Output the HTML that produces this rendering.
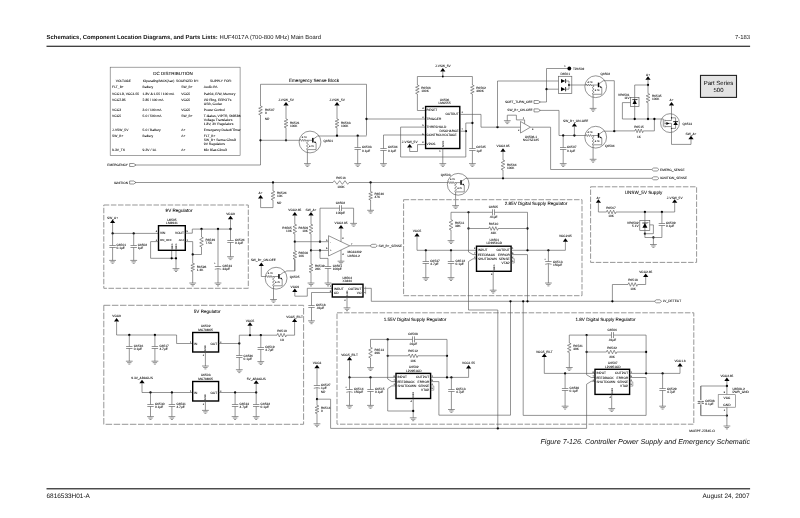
<!DOCTYPE html>
<html><head><meta charset="utf-8"><title>7-183</title>
<style>
html,body{margin:0;padding:0;background:#fff;}
body{width:800px;height:518px;overflow:hidden;font-family:"Liberation Sans",sans-serif;}
svg{display:block;font-family:"Liberation Sans",sans-serif;text-rendering:geometricPrecision;filter:grayscale(1);}
</style></head><body>
<svg width="800" height="518" viewBox="0 0 800 518">
<rect width="800" height="518" fill="#fff"/>
<text transform="translate(46.6 39.3) scale(0.1)" font-size="59" fill="#111"><tspan font-weight="bold">Schematics, Component Location Diagrams, and Parts Lists:</tspan> HUF4017A (700-800 MHz) Main Board</text>
<text transform="translate(750.00 39.30) scale(0.1)" font-size="59.0" text-anchor="end" fill="#111" >7-183</text>
<rect x="46.5" y="45.7" width="703.6" height="1.15" fill="#222"/>
<rect x="46.5" y="488.05" width="703.6" height="1.4" fill="#444"/>
<text transform="translate(46.50 498.10) scale(0.1)" font-size="64.5" text-anchor="start" fill="#111" >6816533H01-A</text>
<text transform="translate(749.50 498.10) scale(0.1)" font-size="64.5" text-anchor="end" fill="#111" >August 24, 2007</text>
<text transform="translate(750.00 444.30) scale(0.1)" font-size="71.7" text-anchor="end" fill="#111" font-style="italic" >Figure 7-126. Controller Power Supply and Emergency Schematic</text>
<text transform="translate(689.20 432.30) scale(0.1)" font-size="33.6" text-anchor="start" fill="#000" stroke="#000" stroke-width="0.50" >MAEPF-27845-O</text>
<rect x="110.2" y="67.2" width="129.9" height="88.4" fill="#fff" stroke="#666" stroke-width="0.6"/>
<text transform="translate(173.00 75.20) scale(0.1)" font-size="45.0" text-anchor="middle" fill="#000" stroke="#000" stroke-width="0.50" >DC DISTRIBUTION</text>
<text transform="translate(123.30 81.70) scale(0.1)" font-size="33.4" text-anchor="middle" fill="#000" stroke="#000" stroke-width="0.50" >VOLTAGE</text>
<text transform="translate(158.50 81.70) scale(0.1)" font-size="33.4" text-anchor="middle" fill="#000" stroke="#000" stroke-width="0.50" >IOperating/MAX(Aac)</text>
<text transform="translate(187.50 81.70) scale(0.1)" font-size="33.4" text-anchor="middle" fill="#000" stroke="#000" stroke-width="0.50" >SOURCED BY:</text>
<text transform="translate(221.00 81.70) scale(0.1)" font-size="33.4" text-anchor="middle" fill="#000" stroke="#000" stroke-width="0.50" >SUPPLY FOR:</text>
<text transform="translate(112.10 88.10) scale(0.1)" font-size="33.4" text-anchor="start" fill="#000" stroke="#000" stroke-width="0.50" >FLT_B+</text>
<text transform="translate(142.60 88.10) scale(0.1)" font-size="33.4" text-anchor="start" fill="#000" stroke="#000" stroke-width="0.50" >Battery</text>
<text transform="translate(181.30 88.10) scale(0.1)" font-size="33.4" text-anchor="start" fill="#000" stroke="#000" stroke-width="0.50" >SW_B+</text>
<text transform="translate(203.80 88.10) scale(0.1)" font-size="33.4" text-anchor="start" fill="#000" stroke="#000" stroke-width="0.50" >Audio PA</text>
<text transform="translate(112.10 94.90) scale(0.1)" font-size="33.4" text-anchor="start" fill="#000" stroke="#000" stroke-width="0.50" >VCC1.8, VCC1.55</text>
<text transform="translate(142.60 94.90) scale(0.1)" font-size="33.4" text-anchor="start" fill="#000" stroke="#000" stroke-width="0.50" >1.8V &amp; 1.55 / 100 mA</text>
<text transform="translate(181.30 94.90) scale(0.1)" font-size="33.4" text-anchor="start" fill="#000" stroke="#000" stroke-width="0.50" >VCC5</text>
<text transform="translate(203.80 94.90) scale(0.1)" font-size="33.4" text-anchor="start" fill="#000" stroke="#000" stroke-width="0.50" >Patriot, E/W, Memory</text>
<text transform="translate(112.10 100.60) scale(0.1)" font-size="33.4" text-anchor="start" fill="#000" stroke="#000" stroke-width="0.50" >VCC2.85</text>
<text transform="translate(142.60 100.60) scale(0.1)" font-size="33.4" text-anchor="start" fill="#000" stroke="#000" stroke-width="0.50" >2.85 / 100 mA</text>
<text transform="translate(181.30 100.60) scale(0.1)" font-size="33.4" text-anchor="start" fill="#000" stroke="#000" stroke-width="0.50" >VCC5</text>
<text transform="translate(203.80 100.60) scale(0.1)" font-size="33.4" text-anchor="start" fill="#000" stroke="#000" stroke-width="0.50" >I/O Ring, EEPOT's</text>
<text transform="translate(203.80 104.50) scale(0.1)" font-size="33.4" text-anchor="start" fill="#000" stroke="#000" stroke-width="0.50" >USB, Codec</text>
<text transform="translate(112.10 110.70) scale(0.1)" font-size="33.4" text-anchor="start" fill="#000" stroke="#000" stroke-width="0.50" >VCC3</text>
<text transform="translate(142.60 110.70) scale(0.1)" font-size="33.4" text-anchor="start" fill="#000" stroke="#000" stroke-width="0.50" >3.0 / 100 mA</text>
<text transform="translate(181.30 110.70) scale(0.1)" font-size="33.4" text-anchor="start" fill="#000" stroke="#000" stroke-width="0.50" >VCC5</text>
<text transform="translate(203.80 110.70) scale(0.1)" font-size="33.4" text-anchor="start" fill="#000" stroke="#000" stroke-width="0.50" >Power Control</text>
<text transform="translate(112.10 117.00) scale(0.1)" font-size="33.4" text-anchor="start" fill="#000" stroke="#000" stroke-width="0.50" >VCC5</text>
<text transform="translate(142.60 117.00) scale(0.1)" font-size="33.4" text-anchor="start" fill="#000" stroke="#000" stroke-width="0.50" >5.0 / 500 mA</text>
<text transform="translate(181.30 117.00) scale(0.1)" font-size="33.4" text-anchor="start" fill="#000" stroke="#000" stroke-width="0.50" >SW_B+</text>
<text transform="translate(203.80 117.00) scale(0.1)" font-size="33.4" text-anchor="start" fill="#000" stroke="#000" stroke-width="0.50" >T-Gates, VIPTR, 5685B6</text>
<text transform="translate(203.80 120.90) scale(0.1)" font-size="33.4" text-anchor="start" fill="#000" stroke="#000" stroke-width="0.50" >Voltage Translators</text>
<text transform="translate(203.80 124.80) scale(0.1)" font-size="33.4" text-anchor="start" fill="#000" stroke="#000" stroke-width="0.50" >1.8V, 3V Regulators</text>
<text transform="translate(112.10 131.00) scale(0.1)" font-size="33.4" text-anchor="start" fill="#000" stroke="#000" stroke-width="0.50" >J-VSW_5V</text>
<text transform="translate(142.60 131.00) scale(0.1)" font-size="33.4" text-anchor="start" fill="#000" stroke="#000" stroke-width="0.50" >5.0 / Battery</text>
<text transform="translate(181.30 131.00) scale(0.1)" font-size="33.4" text-anchor="start" fill="#000" stroke="#000" stroke-width="0.50" >A+</text>
<text transform="translate(203.80 131.00) scale(0.1)" font-size="33.4" text-anchor="start" fill="#000" stroke="#000" stroke-width="0.50" >Emergency Detect/Timer</text>
<text transform="translate(112.10 137.30) scale(0.1)" font-size="33.4" text-anchor="start" fill="#000" stroke="#000" stroke-width="0.50" >SW_B+</text>
<text transform="translate(142.60 137.30) scale(0.1)" font-size="33.4" text-anchor="start" fill="#000" stroke="#000" stroke-width="0.50" >Battery</text>
<text transform="translate(181.30 137.30) scale(0.1)" font-size="33.4" text-anchor="start" fill="#000" stroke="#000" stroke-width="0.50" >A+</text>
<text transform="translate(203.80 137.30) scale(0.1)" font-size="33.4" text-anchor="start" fill="#000" stroke="#000" stroke-width="0.50" >FLT_B+</text>
<text transform="translate(203.80 141.20) scale(0.1)" font-size="33.4" text-anchor="start" fill="#000" stroke="#000" stroke-width="0.50" >SW_B+ Sense Circuit</text>
<text transform="translate(203.80 145.10) scale(0.1)" font-size="33.4" text-anchor="start" fill="#000" stroke="#000" stroke-width="0.50" >9V Regulators</text>
<text transform="translate(112.10 151.20) scale(0.1)" font-size="33.4" text-anchor="start" fill="#000" stroke="#000" stroke-width="0.50" >9.3V_TX</text>
<text transform="translate(142.60 151.20) scale(0.1)" font-size="33.4" text-anchor="start" fill="#000" stroke="#000" stroke-width="0.50" >9.3V / 1A</text>
<text transform="translate(181.30 151.20) scale(0.1)" font-size="33.4" text-anchor="start" fill="#000" stroke="#000" stroke-width="0.50" >A+</text>
<text transform="translate(203.80 151.20) scale(0.1)" font-size="33.4" text-anchor="start" fill="#000" stroke="#000" stroke-width="0.50" >Mic Bias Circuit</text>
<path d="M129.60 163.50 L133.80 163.50 L135.90 165.00 L133.80 166.50 L129.60 166.50 Z" fill="#fff" stroke="#565656" stroke-width="0.63"/>
<text transform="translate(128.00 166.05) scale(0.1)" font-size="32.1" text-anchor="end" fill="#000" stroke="#000" stroke-width="0.50" >EMERGENCY</text>
<path d="M129.60 181.00 L133.80 181.00 L135.90 182.50 L133.80 184.00 L129.60 184.00 Z" fill="#fff" stroke="#565656" stroke-width="0.63"/>
<text transform="translate(128.00 183.55) scale(0.1)" font-size="32.1" text-anchor="end" fill="#000" stroke="#000" stroke-width="0.50" >IGNITION</text>
<text transform="translate(314.00 81.60) scale(0.1)" font-size="46.0" text-anchor="middle" fill="#000" stroke="#000" stroke-width="0.50" >Emergency Sense Block</text>
<path d="M260.50 106.00 L260.50 84.30 L366.50 84.30 L366.50 135.50" fill="none" stroke="#565656" stroke-width="0.63"/>
<path d="M260.50 106.00 L262.30 106.75 L258.70 108.25 L262.30 109.75 L258.70 111.25 L262.30 112.75 L258.70 114.25 L260.50 115.00" fill="none" stroke="#565656" stroke-width="0.63"/>
<path d="M260.50 115.00 L260.50 165.00 L135.10 165.00" fill="none" stroke="#565656" stroke-width="0.63"/>
<text transform="translate(265.00 110.60) scale(0.1)" font-size="32.1" text-anchor="start" fill="#000" stroke="#000" stroke-width="0.50" >R6507</text>
<text transform="translate(265.00 113.65) scale(0.1)" font-size="32.1" text-anchor="start" fill="#000" stroke="#000" stroke-width="0.50" >0</text>
<text transform="translate(265.00 120.30) scale(0.1)" font-size="32.1" text-anchor="start" fill="#000" stroke="#000" stroke-width="0.50" >NP</text>
<circle cx="260.50" cy="140.30" r="1.15" fill="#000"/>
<circle cx="286.00" cy="140.30" r="1.15" fill="#000"/>
<path d="M260.50 140.30 L299.30 140.30" fill="none" stroke="#565656" stroke-width="0.63"/>
<path d="M286.00 102.00 L283.40 105.50 L288.60 105.50 Z" fill="#000"/>
<text transform="translate(286.00 101.30) scale(0.1)" font-size="32.1" text-anchor="middle" fill="#000" stroke="#000" stroke-width="0.50" >J-VSW_5V</text>
<path d="M286.00 105.50 L286.00 119.00" fill="none" stroke="#565656" stroke-width="0.63"/>
<path d="M286.00 119.00 L287.80 119.72 L284.20 121.17 L287.80 122.62 L284.20 124.08 L287.80 125.53 L284.20 126.98 L286.00 127.70" fill="none" stroke="#565656" stroke-width="0.63"/>
<path d="M286.00 127.70 L286.00 140.30" fill="none" stroke="#565656" stroke-width="0.63"/>
<text transform="translate(290.00 123.90) scale(0.1)" font-size="32.1" text-anchor="start" fill="#000" stroke="#000" stroke-width="0.50" >R6521</text>
<text transform="translate(290.00 126.95) scale(0.1)" font-size="32.1" text-anchor="start" fill="#000" stroke="#000" stroke-width="0.50" >100K</text>
<path d="M337.00 102.00 L334.40 105.50 L339.60 105.50 Z" fill="#000"/>
<text transform="translate(337.00 101.30) scale(0.1)" font-size="32.1" text-anchor="middle" fill="#000" stroke="#000" stroke-width="0.50" >J-VSW_5V</text>
<path d="M337.00 105.50 L337.00 119.00" fill="none" stroke="#565656" stroke-width="0.63"/>
<path d="M337.00 119.00 L338.80 119.72 L335.20 121.17 L338.80 122.62 L335.20 124.08 L338.80 125.53 L335.20 126.98 L337.00 127.70" fill="none" stroke="#565656" stroke-width="0.63"/>
<path d="M337.00 127.70 L337.00 135.50" fill="none" stroke="#565656" stroke-width="0.63"/>
<text transform="translate(341.00 123.90) scale(0.1)" font-size="32.1" text-anchor="start" fill="#000" stroke="#000" stroke-width="0.50" >R6563</text>
<text transform="translate(341.00 126.95) scale(0.1)" font-size="32.1" text-anchor="start" fill="#000" stroke="#000" stroke-width="0.50" >100K</text>
<circle cx="310.00" cy="142.00" r="10.9" fill="none" stroke="#565656" stroke-width="0.63"/>
<path d="M300.00 140.30 L300.54 139.30 L301.62 141.30 L302.71 139.30 L303.79 141.30 L304.88 139.30 L305.96 141.30 L306.50 140.30" fill="none" stroke="#565656" stroke-width="0.63"/>
<path d="M299.30 140.30 L300.00 140.30" fill="none" stroke="#565656" stroke-width="0.63"/>
<path d="M306.50 140.30 L312.30 140.30" fill="none" stroke="#565656" stroke-width="0.63"/>
<path d="M307.40 140.60 L308.40 141.37 L306.40 142.90 L308.40 144.43 L306.40 145.97 L308.40 147.50 L306.40 149.03 L307.40 149.80" fill="none" stroke="#565656" stroke-width="0.63"/>
<rect x="312.10" y="137.90" width="1.5" height="4.6" fill="#000"/>
<path d="M313.50 139.00 L317.60 136.00 L318.80 136.00" fill="none" stroke="#565656" stroke-width="0.63"/>
<path d="M313.50 141.50 L316.10 142.90 L316.10 149.60 L307.40 149.60" fill="none" stroke="#565656" stroke-width="0.63"/>
<path d="M316.10 143.00 l-1.9 -0.2 l0.9 -1.5 Z" fill="#000"/>
<text transform="translate(304.30 138.10) scale(0.1)" font-size="24.6" text-anchor="middle" fill="#000" stroke="#000" stroke-width="0.50" >4.7K</text>
<text transform="translate(309.00 146.50) scale(0.1)" font-size="24.6" text-anchor="start" fill="#000" stroke="#000" stroke-width="0.50" >4.7K</text>
<path d="M307.40 149.80 L307.40 163.60" fill="none" stroke="#565656" stroke-width="0.63"/>
<path d="M304.00 163.60 L310.80 163.60" fill="none" stroke="#565656" stroke-width="0.65"/>
<path d="M305.20 165.05 L309.60 165.05" fill="none" stroke="#565656" stroke-width="0.65"/>
<path d="M306.40 166.50 L308.40 166.50" fill="none" stroke="#565656" stroke-width="0.65"/>
<text transform="translate(323.40 142.10) scale(0.1)" font-size="32.1" text-anchor="start" fill="#000" stroke="#000" stroke-width="0.50" >Q6501</text>
<path d="M318.80 136.00 L366.50 136.00" fill="none" stroke="#565656" stroke-width="0.63"/>
<circle cx="337.00" cy="135.70" r="1.15" fill="#000"/>
<circle cx="357.70" cy="135.70" r="1.15" fill="#000"/>
<circle cx="366.50" cy="119.00" r="1.15" fill="#000"/>
<path d="M357.70 135.70 L357.70 147.50" fill="none" stroke="#565656" stroke-width="0.63"/>
<path d="M357.70 149.50 L357.70 163.60" fill="none" stroke="#565656" stroke-width="0.63"/>
<path d="M354.50 147.50 L360.90 147.50" fill="none" stroke="#565656" stroke-width="0.63"/>
<path d="M354.50 149.50 L360.90 149.50" fill="none" stroke="#565656" stroke-width="0.63"/>
<path d="M354.30 163.60 L361.10 163.60" fill="none" stroke="#565656" stroke-width="0.65"/>
<path d="M355.50 165.05 L359.90 165.05" fill="none" stroke="#565656" stroke-width="0.65"/>
<path d="M356.70 166.50 L358.70 166.50" fill="none" stroke="#565656" stroke-width="0.65"/>
<text transform="translate(362.00 148.30) scale(0.1)" font-size="32.1" text-anchor="start" fill="#000" stroke="#000" stroke-width="0.50" >C6503</text>
<text transform="translate(362.00 151.70) scale(0.1)" font-size="32.1" text-anchor="start" fill="#000" stroke="#000" stroke-width="0.50" >0.1µF</text>
<path d="M366.50 119.00 L425.00 119.00" fill="none" stroke="#565656" stroke-width="0.63"/>
<path d="M425.00 135.00 L383.50 135.00" fill="none" stroke="#565656" stroke-width="0.63"/>
<path d="M383.50 135.00 L383.50 148.50" fill="none" stroke="#565656" stroke-width="0.63"/>
<path d="M383.50 150.50 L383.50 163.60" fill="none" stroke="#565656" stroke-width="0.63"/>
<path d="M380.30 148.50 L386.70 148.50" fill="none" stroke="#565656" stroke-width="0.63"/>
<path d="M380.30 150.50 L386.70 150.50" fill="none" stroke="#565656" stroke-width="0.63"/>
<path d="M380.10 163.60 L386.90 163.60" fill="none" stroke="#565656" stroke-width="0.65"/>
<path d="M381.30 165.05 L385.70 165.05" fill="none" stroke="#565656" stroke-width="0.65"/>
<path d="M382.50 166.50 L384.50 166.50" fill="none" stroke="#565656" stroke-width="0.65"/>
<text transform="translate(388.00 148.30) scale(0.1)" font-size="32.1" text-anchor="start" fill="#000" stroke="#000" stroke-width="0.50" >C6504</text>
<text transform="translate(388.00 151.70) scale(0.1)" font-size="32.1" text-anchor="start" fill="#000" stroke="#000" stroke-width="0.50" >0.1µF</text>
<rect x="425.60" y="106.50" width="34.20" height="42.00" fill="#fff" stroke="#000" stroke-width="1.40"/>
<text transform="translate(426.60 111.05) scale(0.1)" font-size="32.1" text-anchor="start" fill="#000" stroke="#000" stroke-width="0.50" >RESET</text>
<text transform="translate(426.60 120.05) scale(0.1)" font-size="32.1" text-anchor="start" fill="#000" stroke="#000" stroke-width="0.50" >TRIGGER</text>
<text transform="translate(426.60 128.05) scale(0.1)" font-size="32.1" text-anchor="start" fill="#000" stroke="#000" stroke-width="0.50" >THRESHOLD</text>
<text transform="translate(426.60 136.25) scale(0.1)" font-size="32.1" text-anchor="start" fill="#000" stroke="#000" stroke-width="0.50" >CONTROLVOLTAGE</text>
<text transform="translate(426.60 145.05) scale(0.1)" font-size="32.1" text-anchor="start" fill="#000" stroke="#000" stroke-width="0.50" >VPOS</text>
<text transform="translate(458.60 115.05) scale(0.1)" font-size="32.1" text-anchor="end" fill="#000" stroke="#000" stroke-width="0.50" >OUTPUT</text>
<text transform="translate(458.60 132.05) scale(0.1)" font-size="32.1" text-anchor="end" fill="#000" stroke="#000" stroke-width="0.50" >DISCHARGE</text>
<text transform="translate(443.50 147.00) rotate(-90) scale(0.1)" font-size="27.8" text-anchor="start" fill="#000" stroke="#000" stroke-width="0.50" >GND</text>
<text transform="translate(423.60 109.30) scale(0.1)" font-size="24.6" text-anchor="end" fill="#000" stroke="#000" stroke-width="0.50" >4</text>
<text transform="translate(423.60 118.30) scale(0.1)" font-size="24.6" text-anchor="end" fill="#000" stroke="#000" stroke-width="0.50" >2</text>
<text transform="translate(423.60 126.30) scale(0.1)" font-size="24.6" text-anchor="end" fill="#000" stroke="#000" stroke-width="0.50" >6</text>
<text transform="translate(423.60 134.80) scale(0.1)" font-size="24.6" text-anchor="end" fill="#000" stroke="#000" stroke-width="0.50" >5</text>
<text transform="translate(423.60 143.30) scale(0.1)" font-size="24.6" text-anchor="end" fill="#000" stroke="#000" stroke-width="0.50" >8</text>
<text transform="translate(461.50 113.30) scale(0.1)" font-size="24.6" text-anchor="start" fill="#000" stroke="#000" stroke-width="0.50" >3</text>
<text transform="translate(461.50 130.30) scale(0.1)" font-size="24.6" text-anchor="start" fill="#000" stroke="#000" stroke-width="0.50" >7</text>
<text transform="translate(440.50 151.50) scale(0.1)" font-size="24.6" text-anchor="end" fill="#000" stroke="#000" stroke-width="0.50" >1</text>
<text transform="translate(444.60 101.40) scale(0.1)" font-size="32.1" text-anchor="middle" fill="#000" stroke="#000" stroke-width="0.50" >U6506</text>
<text transform="translate(444.60 104.30) scale(0.1)" font-size="32.1" text-anchor="middle" fill="#000" stroke="#000" stroke-width="0.50" >LMC555</text>
<path d="M417.40 85.00 L417.40 76.50 L472.40 76.50 L472.40 85.00" fill="none" stroke="#565656" stroke-width="0.63"/>
<path d="M417.40 85.00 L419.20 85.75 L415.60 87.25 L419.20 88.75 L415.60 90.25 L419.20 91.75 L415.60 93.25 L417.40 94.00" fill="none" stroke="#565656" stroke-width="0.63"/>
<path d="M417.40 94.00 L417.40 110.50 L425.00 110.50" fill="none" stroke="#565656" stroke-width="0.63"/>
<text transform="translate(421.30 88.80) scale(0.1)" font-size="32.1" text-anchor="start" fill="#000" stroke="#000" stroke-width="0.50" >R6566</text>
<text transform="translate(421.30 91.85) scale(0.1)" font-size="32.1" text-anchor="start" fill="#000" stroke="#000" stroke-width="0.50" >100K</text>
<path d="M472.40 85.00 L474.20 85.75 L470.60 87.25 L474.20 88.75 L470.60 90.25 L474.20 91.75 L470.60 93.25 L472.40 94.00" fill="none" stroke="#565656" stroke-width="0.63"/>
<path d="M472.40 94.00 L472.40 148.50" fill="none" stroke="#565656" stroke-width="0.63"/>
<path d="M472.40 150.50 L472.40 163.60" fill="none" stroke="#565656" stroke-width="0.63"/>
<path d="M469.20 148.50 L475.60 148.50" fill="none" stroke="#565656" stroke-width="0.63"/>
<path d="M469.20 150.50 L475.60 150.50" fill="none" stroke="#565656" stroke-width="0.63"/>
<path d="M469.00 163.60 L475.80 163.60" fill="none" stroke="#565656" stroke-width="0.65"/>
<path d="M470.20 165.05 L474.60 165.05" fill="none" stroke="#565656" stroke-width="0.65"/>
<path d="M471.40 166.50 L473.40 166.50" fill="none" stroke="#565656" stroke-width="0.65"/>
<text transform="translate(476.30 88.80) scale(0.1)" font-size="32.1" text-anchor="start" fill="#000" stroke="#000" stroke-width="0.50" >R6562</text>
<text transform="translate(476.30 91.85) scale(0.1)" font-size="32.1" text-anchor="start" fill="#000" stroke="#000" stroke-width="0.50" >390K</text>
<text transform="translate(476.30 148.30) scale(0.1)" font-size="32.1" text-anchor="start" fill="#000" stroke="#000" stroke-width="0.50" >C6525</text>
<text transform="translate(476.30 151.70) scale(0.1)" font-size="32.1" text-anchor="start" fill="#000" stroke="#000" stroke-width="0.50" >1µF</text>
<path d="M442.80 68.10 L440.20 71.60 L445.40 71.60 Z" fill="#000"/>
<text transform="translate(442.80 67.40) scale(0.1)" font-size="32.1" text-anchor="middle" fill="#000" stroke="#000" stroke-width="0.50" >J-VSW_5V</text>
<path d="M442.80 71.60 L442.80 76.50" fill="none" stroke="#565656" stroke-width="0.63"/>
<circle cx="442.80" cy="76.50" r="0.90" fill="#000"/>
<circle cx="472.40" cy="123.00" r="1.15" fill="#000"/>
<circle cx="466.00" cy="131.20" r="1.15" fill="#000"/>
<path d="M472.40 123.00 L465.80 123.00 L465.80 131.20" fill="none" stroke="#565656" stroke-width="0.63"/>
<path d="M460.00 131.20 L465.80 131.20 L465.80 157.00 L400.60 157.00 L400.60 127.10 L425.00 127.10" fill="none" stroke="#565656" stroke-width="0.63"/>
<path d="M409.70 144.00 L407.10 147.50 L412.30 147.50 Z" fill="#000"/>
<text transform="translate(409.70 143.40) scale(0.1)" font-size="32.1" text-anchor="middle" fill="#000" stroke="#000" stroke-width="0.50" >J-VSW_5V</text>
<path d="M409.70 147.50 L409.70 151.50 L417.50 151.50 L417.50 144.60 L425.00 144.60" fill="none" stroke="#565656" stroke-width="0.63"/>
<path d="M442.80 148.50 L442.80 163.60" fill="none" stroke="#565656" stroke-width="0.63"/>
<path d="M439.40 163.60 L446.20 163.60" fill="none" stroke="#565656" stroke-width="0.65"/>
<path d="M440.60 165.05 L445.00 165.05" fill="none" stroke="#565656" stroke-width="0.65"/>
<path d="M441.80 166.50 L443.80 166.50" fill="none" stroke="#565656" stroke-width="0.65"/>
<path d="M460.00 114.40 L481.00 114.40 L481.00 127.20 L520.50 127.20" fill="none" stroke="#565656" stroke-width="0.63"/>
<circle cx="497.50" cy="127.20" r="1.15" fill="#000"/>
<path d="M497.50 127.20 L497.50 81.00 L561.00 81.00" fill="none" stroke="#565656" stroke-width="0.63"/>
<path d="M520.5 121.5 L520.5 133 L530.4 127.2 Z" fill="#fff" stroke="#565656" stroke-width="0.63"/>
<path d="M503.90 120.70 L510.70 120.70" fill="none" stroke="#565656" stroke-width="0.65"/>
<path d="M505.10 122.15 L509.50 122.15" fill="none" stroke="#565656" stroke-width="0.65"/>
<path d="M506.30 123.60 L508.30 123.60" fill="none" stroke="#565656" stroke-width="0.65"/>
<path d="M507.30 120.70 L507.30 115.20 L516.40 115.20 L516.40 119.90 L524.60 119.90 L524.60 123.80" fill="none" stroke="#565656" stroke-width="0.63"/>
<text transform="translate(519.30 130.80) scale(0.1)" font-size="24.6" text-anchor="end" fill="#000" stroke="#000" stroke-width="0.50" >2</text>
<text transform="translate(532.00 130.20) scale(0.1)" font-size="24.6" text-anchor="start" fill="#000" stroke="#000" stroke-width="0.50" >4</text>
<text transform="translate(524.20 119.20) scale(0.1)" font-size="24.6" text-anchor="end" fill="#000" stroke="#000" stroke-width="0.50" >1</text>
<text transform="translate(531.00 137.80) scale(0.1)" font-size="32.1" text-anchor="middle" fill="#000" stroke="#000" stroke-width="0.50" >U6508-1</text>
<text transform="translate(531.00 141.10) scale(0.1)" font-size="32.1" text-anchor="middle" fill="#000" stroke="#000" stroke-width="0.50" >NC7SZ125</text>
<path d="M530.40 127.20 L550.60 127.20 L550.60 169.50 L651.60 169.50" fill="none" stroke="#565656" stroke-width="0.63"/>
<path d="M651.60 169.50 L653.60 168.00 L657.20 168.00 L658.90 169.50 L657.20 171.00 L653.60 171.00 Z" fill="#fff" stroke="#565656" stroke-width="0.63"/>
<text transform="translate(660.10 170.55) scale(0.1)" font-size="32.1" text-anchor="start" fill="#000" stroke="#000" stroke-width="0.50" >EMERG_SENSE</text>
<path d="M534.00 100.50 L538.20 100.50 L540.30 102.00 L538.20 103.50 L534.00 103.50 Z" fill="#fff" stroke="#565656" stroke-width="0.63"/>
<text transform="translate(532.40 103.05) scale(0.1)" font-size="32.1" text-anchor="end" fill="#000" stroke="#000" stroke-width="0.50" >SOFT_TURN_OFF</text>
<path d="M539.50 102.00 L546.50 102.00 L546.50 68.50 L569.30 68.50" fill="none" stroke="#565656" stroke-width="0.63"/>
<circle cx="569.3" cy="68.5" r="1.9" fill="#000"/>
<text transform="translate(573.00 69.60) scale(0.1)" font-size="32.1" text-anchor="start" fill="#000" stroke="#000" stroke-width="0.50" >TP6502</text>
<text transform="translate(565.50 66.50) scale(0.1)" font-size="24.6" text-anchor="end" fill="#000" stroke="#000" stroke-width="0.50" >1</text>
<circle cx="546.50" cy="89.20" r="1.15" fill="#000"/>
<path d="M546.50 89.20 L561.00 89.20" fill="none" stroke="#565656" stroke-width="0.63"/>
<rect x="558.6" y="76.3" width="13.2" height="17.3" fill="#fff" stroke="#666" stroke-width="0.7"/>
<path d="M561 78.90 L565.2 81.00 L561 83.10 Z" fill="#000"/>
<path d="M565.60 78.90 L565.60 83.10" fill="none" stroke="#000" stroke-width="0.80"/>
<path d="M565.60 81.00 L569.00 81.00" fill="none" stroke="#565656" stroke-width="0.63"/>
<path d="M561 87.10 L565.2 89.20 L561 91.30 Z" fill="#000"/>
<path d="M565.60 87.10 L565.60 91.30" fill="none" stroke="#000" stroke-width="0.80"/>
<path d="M565.60 89.20 L569.00 89.20" fill="none" stroke="#565656" stroke-width="0.63"/>
<path d="M569.00 81.00 L569.00 89.20" fill="none" stroke="#565656" stroke-width="0.63"/>
<circle cx="569.00" cy="85.00" r="0.90" fill="#000"/>
<path d="M569.00 85.00 L585.00 85.00" fill="none" stroke="#565656" stroke-width="0.63"/>
<text transform="translate(565.20 75.20) scale(0.1)" font-size="32.1" text-anchor="middle" fill="#000" stroke="#000" stroke-width="0.50" >D6501</text>
<circle cx="595.70" cy="86.70" r="10.9" fill="none" stroke="#565656" stroke-width="0.63"/>
<path d="M585.70 85.00 L586.24 84.00 L587.33 86.00 L588.41 84.00 L589.49 86.00 L590.58 84.00 L591.66 86.00 L592.20 85.00" fill="none" stroke="#565656" stroke-width="0.63"/>
<path d="M585.00 85.00 L585.70 85.00" fill="none" stroke="#565656" stroke-width="0.63"/>
<path d="M592.20 85.00 L598.00 85.00" fill="none" stroke="#565656" stroke-width="0.63"/>
<path d="M593.10 85.30 L594.10 86.07 L592.10 87.60 L594.10 89.13 L592.10 90.67 L594.10 92.20 L592.10 93.73 L593.10 94.50" fill="none" stroke="#565656" stroke-width="0.63"/>
<rect x="597.80" y="82.60" width="1.5" height="4.6" fill="#000"/>
<path d="M599.20 83.70 L603.30 80.70 L604.50 80.70" fill="none" stroke="#565656" stroke-width="0.63"/>
<path d="M599.20 86.20 L601.80 87.60 L601.80 94.30 L593.10 94.30" fill="none" stroke="#565656" stroke-width="0.63"/>
<path d="M601.80 87.70 l-1.9 -0.2 l0.9 -1.5 Z" fill="#000"/>
<text transform="translate(590.00 82.80) scale(0.1)" font-size="24.6" text-anchor="middle" fill="#000" stroke="#000" stroke-width="0.50" >4.7K</text>
<text transform="translate(594.70 91.20) scale(0.1)" font-size="24.6" text-anchor="start" fill="#000" stroke="#000" stroke-width="0.50" >4.7K</text>
<path d="M593.10 94.50 L593.10 108.40" fill="none" stroke="#565656" stroke-width="0.63"/>
<path d="M589.70 108.40 L596.50 108.40" fill="none" stroke="#565656" stroke-width="0.65"/>
<path d="M590.90 109.85 L595.30 109.85" fill="none" stroke="#565656" stroke-width="0.65"/>
<path d="M592.10 111.30 L594.10 111.30" fill="none" stroke="#565656" stroke-width="0.65"/>
<text transform="translate(600.50 75.40) scale(0.1)" font-size="32.1" text-anchor="start" fill="#000" stroke="#000" stroke-width="0.50" >Q6502</text>
<path d="M604.50 80.70 L614.30 80.70 L614.30 130.90" fill="none" stroke="#565656" stroke-width="0.63"/>
<path d="M534.00 108.90 L538.20 108.90 L540.30 110.40 L538.20 111.90 L534.00 111.90 Z" fill="#fff" stroke="#565656" stroke-width="0.63"/>
<text transform="translate(532.40 111.45) scale(0.1)" font-size="32.1" text-anchor="end" fill="#000" stroke="#000" stroke-width="0.50" >SW_B+_ON-OFF</text>
<path d="M539.50 110.40 L559.00 110.40 L559.00 135.50 L585.00 135.50" fill="none" stroke="#565656" stroke-width="0.63"/>
<circle cx="563.20" cy="135.50" r="1.15" fill="#000"/>
<circle cx="574.40" cy="135.50" r="1.15" fill="#000"/>
<path d="M563.20 135.50 L563.20 147.50" fill="none" stroke="#565656" stroke-width="0.63"/>
<path d="M563.20 149.50 L563.20 163.60" fill="none" stroke="#565656" stroke-width="0.63"/>
<path d="M560.00 147.50 L566.40 147.50" fill="none" stroke="#565656" stroke-width="0.63"/>
<path d="M560.00 149.50 L566.40 149.50" fill="none" stroke="#565656" stroke-width="0.63"/>
<path d="M559.80 163.60 L566.60 163.60" fill="none" stroke="#565656" stroke-width="0.65"/>
<path d="M561.00 165.05 L565.40 165.05" fill="none" stroke="#565656" stroke-width="0.65"/>
<path d="M562.20 166.50 L564.20 166.50" fill="none" stroke="#565656" stroke-width="0.65"/>
<text transform="translate(567.00 148.30) scale(0.1)" font-size="32.1" text-anchor="start" fill="#000" stroke="#000" stroke-width="0.50" >C6507</text>
<text transform="translate(567.00 151.70) scale(0.1)" font-size="32.1" text-anchor="start" fill="#000" stroke="#000" stroke-width="0.50" >0.1µF</text>
<path d="M574.40 123.00 L571.80 126.50 L577.00 126.50 Z" fill="#000"/>
<text transform="translate(575.60 121.90) scale(0.1)" font-size="32.1" text-anchor="middle" fill="#000" stroke="#000" stroke-width="0.50" >SW_B+_ON-OFF</text>
<path d="M574.40 126.50 L574.40 135.50" fill="none" stroke="#565656" stroke-width="0.63"/>
<circle cx="595.70" cy="137.20" r="10.9" fill="none" stroke="#565656" stroke-width="0.63"/>
<path d="M585.70 135.50 L586.24 134.50 L587.33 136.50 L588.41 134.50 L589.49 136.50 L590.58 134.50 L591.66 136.50 L592.20 135.50" fill="none" stroke="#565656" stroke-width="0.63"/>
<path d="M585.00 135.50 L585.70 135.50" fill="none" stroke="#565656" stroke-width="0.63"/>
<path d="M592.20 135.50 L598.00 135.50" fill="none" stroke="#565656" stroke-width="0.63"/>
<path d="M593.10 135.80 L594.10 136.57 L592.10 138.10 L594.10 139.63 L592.10 141.17 L594.10 142.70 L592.10 144.23 L593.10 145.00" fill="none" stroke="#565656" stroke-width="0.63"/>
<rect x="597.80" y="133.10" width="1.5" height="4.6" fill="#000"/>
<path d="M599.20 134.20 L603.30 131.20 L604.50 131.20" fill="none" stroke="#565656" stroke-width="0.63"/>
<path d="M599.20 136.70 L601.80 138.10 L601.80 144.80 L593.10 144.80" fill="none" stroke="#565656" stroke-width="0.63"/>
<path d="M601.80 138.20 l-1.9 -0.2 l0.9 -1.5 Z" fill="#000"/>
<text transform="translate(590.00 133.30) scale(0.1)" font-size="24.6" text-anchor="middle" fill="#000" stroke="#000" stroke-width="0.50" >4.7K</text>
<text transform="translate(594.70 141.70) scale(0.1)" font-size="24.6" text-anchor="start" fill="#000" stroke="#000" stroke-width="0.50" >4.7K</text>
<path d="M593.10 145.00 L593.10 159.30" fill="none" stroke="#565656" stroke-width="0.63"/>
<path d="M589.70 159.30 L596.50 159.30" fill="none" stroke="#565656" stroke-width="0.65"/>
<path d="M590.90 160.75 L595.30 160.75" fill="none" stroke="#565656" stroke-width="0.65"/>
<path d="M592.10 162.20 L594.10 162.20" fill="none" stroke="#565656" stroke-width="0.65"/>
<text transform="translate(605.00 147.30) scale(0.1)" font-size="32.1" text-anchor="start" fill="#000" stroke="#000" stroke-width="0.50" >Q6504</text>
<path d="M604.50 131.20 L614.30 131.20" fill="none" stroke="#565656" stroke-width="0.63"/>
<circle cx="614.30" cy="131.20" r="1.15" fill="#000"/>
<path d="M614.30 130.90 L635.00 130.90" fill="none" stroke="#565656" stroke-width="0.63"/>
<path d="M635.00 130.90 L635.69 129.10 L637.08 132.70 L638.46 129.10 L639.84 132.70 L641.22 129.10 L642.61 132.70 L643.30 130.90" fill="none" stroke="#565656" stroke-width="0.63"/>
<path d="M643.30 130.90 L654.40 130.90" fill="none" stroke="#565656" stroke-width="0.63"/>
<path d="M654.40 130.90 L654.40 119.00" fill="none" stroke="#565656" stroke-width="0.63"/>
<text transform="translate(639.00 128.30) scale(0.1)" font-size="32.1" text-anchor="middle" fill="#000" stroke="#000" stroke-width="0.50" >R6515</text>
<text transform="translate(639.00 137.60) scale(0.1)" font-size="32.1" text-anchor="middle" fill="#000" stroke="#000" stroke-width="0.50" >1K</text>
<path d="M648.00 76.30 L645.40 79.80 L650.60 79.80 Z" fill="#000"/>
<text transform="translate(648.00 75.60) scale(0.1)" font-size="32.1" text-anchor="middle" fill="#000" stroke="#000" stroke-width="0.50" >A+</text>
<path d="M648.00 79.80 L648.00 85.00" fill="none" stroke="#565656" stroke-width="0.63"/>
<circle cx="648.00" cy="85.00" r="1.15" fill="#000"/>
<path d="M648.00 85.00 L648.00 93.60" fill="none" stroke="#565656" stroke-width="0.63"/>
<path d="M648.00 93.60 L649.80 94.35 L646.20 95.85 L649.80 97.35 L646.20 98.85 L649.80 100.35 L646.20 101.85 L648.00 102.60" fill="none" stroke="#565656" stroke-width="0.63"/>
<path d="M648.00 102.60 L648.00 119.00" fill="none" stroke="#565656" stroke-width="0.63"/>
<text transform="translate(652.00 96.60) scale(0.1)" font-size="32.1" text-anchor="start" fill="#000" stroke="#000" stroke-width="0.50" >R6535</text>
<text transform="translate(652.00 99.65) scale(0.1)" font-size="32.1" text-anchor="start" fill="#000" stroke="#000" stroke-width="0.50" >100K</text>
<path d="M648.00 85.00 L634.70 85.00 L634.70 119.00" fill="none" stroke="#565656" stroke-width="0.63"/>
<rect x="630.6" y="97.4" width="8.4" height="9" fill="#fff" stroke="#565656" stroke-width="0.63"/>
<path d="M634.70 97.40 L634.70 106.40" fill="none" stroke="#565656" stroke-width="0.63"/>
<path d="M634.7 99.6 L632.5 104 L636.9 104 Z" fill="#000"/>
<path d="M632.30 99.60 L637.10 99.60 L637.70 98.90" fill="none" stroke="#000" stroke-width="0.70"/>
<text transform="translate(629.60 96.20) scale(0.1)" font-size="32.1" text-anchor="end" fill="#000" stroke="#000" stroke-width="0.50" >VR6501</text>
<text transform="translate(629.60 99.40) scale(0.1)" font-size="32.1" text-anchor="end" fill="#000" stroke="#000" stroke-width="0.50" >11V</text>
<path d="M630.60 102.60 L622.40 102.60 L622.40 119.00 L661.30 119.00" fill="none" stroke="#565656" stroke-width="0.63"/>
<circle cx="634.70" cy="119.00" r="1.15" fill="#000"/>
<circle cx="648.00" cy="119.00" r="1.15" fill="#000"/>
<circle cx="654.40" cy="119.00" r="1.15" fill="#000"/>
<circle cx="670" cy="123.1" r="9.4" fill="none" stroke="#565656" stroke-width="0.63"/>
<path d="M661.30 119.00 L663.30 119.00 L663.30 126.80" fill="none" stroke="#565656" stroke-width="0.63"/>
<path d="M664.90 119.60 L664.90 121.60" fill="none" stroke="#565656" stroke-width="0.63"/>
<path d="M664.90 122.40 L664.90 124.40" fill="none" stroke="#565656" stroke-width="0.63"/>
<path d="M664.90 125.40 L664.90 127.40" fill="none" stroke="#565656" stroke-width="0.63"/>
<path d="M664.90 120.50 L671.50 120.50" fill="none" stroke="#565656" stroke-width="0.63"/>
<path d="M664.90 126.60 L671.50 126.60" fill="none" stroke="#565656" stroke-width="0.63"/>
<path d="M664.90 123.40 L671.50 123.40 L671.50 126.60" fill="none" stroke="#565656" stroke-width="0.63"/>
<path d="M669.4 123.4 L666.4 121.9 L666.4 124.9 Z" fill="#000"/>
<path d="M671.50 101.90 L668.90 105.40 L674.10 105.40 Z" fill="#000"/>
<text transform="translate(671.50 101.10) scale(0.1)" font-size="32.1" text-anchor="middle" fill="#000" stroke="#000" stroke-width="0.50" >A+</text>
<path d="M671.50 105.40 L671.50 120.50" fill="none" stroke="#565656" stroke-width="0.63"/>
<path d="M671.50 117.80 L675.60 117.80 L675.60 128.40 L671.50 128.40" fill="none" stroke="#565656" stroke-width="0.63"/>
<circle cx="671.50" cy="117.80" r="0.60" fill="#000"/>
<circle cx="671.50" cy="128.40" r="0.60" fill="#000"/>
<path d="M675.6 121.6 L673.3 125 L677.9 125 Z" fill="#000"/>
<path d="M673.20 121.60 L678.00 121.60" fill="none" stroke="#000" stroke-width="0.80"/>
<path d="M671.50 126.60 L671.50 144.40 L691.00 144.40 L691.00 139.00" fill="none" stroke="#565656" stroke-width="0.63"/>
<path d="M691.00 135.80 L688.40 139.30 L693.60 139.30 Z" fill="#000"/>
<text transform="translate(691.00 134.80) scale(0.1)" font-size="32.1" text-anchor="middle" fill="#000" stroke="#000" stroke-width="0.50" >SW_A+</text>
<text transform="translate(682.40 125.00) scale(0.1)" font-size="32.1" text-anchor="start" fill="#000" stroke="#000" stroke-width="0.50" >Q6513</text>
<rect x="700.5" y="75.4" width="36" height="22" fill="#e3e3e3" stroke="#222" stroke-width="1.1"/>
<text transform="translate(718.50 85.40) scale(0.1)" font-size="60.0" text-anchor="middle" fill="#000" >Part Series</text>
<text transform="translate(718.50 92.40) scale(0.1)" font-size="60.0" text-anchor="middle" fill="#000" >500</text>
<path d="M135.10 182.50 L333.00 182.50" fill="none" stroke="#565656" stroke-width="0.63"/>
<path d="M333.00 182.50 L334.33 180.70 L337.00 184.30 L339.67 180.70 L342.33 184.30 L345.00 180.70 L347.67 184.30 L349.00 182.50" fill="none" stroke="#565656" stroke-width="0.63"/>
<path d="M349.00 182.50 L447.50 182.50" fill="none" stroke="#565656" stroke-width="0.63"/>
<text transform="translate(341.00 178.60) scale(0.1)" font-size="32.1" text-anchor="middle" fill="#000" stroke="#000" stroke-width="0.50" >R6516</text>
<text transform="translate(341.00 188.40) scale(0.1)" font-size="32.1" text-anchor="middle" fill="#000" stroke="#000" stroke-width="0.50" >100K</text>
<circle cx="273.00" cy="182.50" r="1.15" fill="#000"/>
<circle cx="370.60" cy="182.50" r="1.15" fill="#000"/>
<path d="M273.00 182.50 L273.00 191.00" fill="none" stroke="#565656" stroke-width="0.63"/>
<path d="M273.00 191.00 L274.80 191.75 L271.20 193.25 L274.80 194.75 L271.20 196.25 L274.80 197.75 L271.20 199.25 L273.00 200.00" fill="none" stroke="#565656" stroke-width="0.63"/>
<path d="M273.00 200.00 L273.00 207.60 L260.60 207.60 L260.60 198.30" fill="none" stroke="#565656" stroke-width="0.63"/>
<path d="M260.60 195.00 L258.00 198.50 L263.20 198.50 Z" fill="#000"/>
<text transform="translate(260.60 194.30) scale(0.1)" font-size="32.1" text-anchor="middle" fill="#000" stroke="#000" stroke-width="0.50" >A+</text>
<text transform="translate(277.00 194.30) scale(0.1)" font-size="32.1" text-anchor="start" fill="#000" stroke="#000" stroke-width="0.50" >R6524</text>
<text transform="translate(277.00 197.35) scale(0.1)" font-size="32.1" text-anchor="start" fill="#000" stroke="#000" stroke-width="0.50" >10K</text>
<text transform="translate(277.00 203.60) scale(0.1)" font-size="32.1" text-anchor="start" fill="#000" stroke="#000" stroke-width="0.50" >NP</text>
<path d="M370.60 182.50 L370.60 191.60" fill="none" stroke="#565656" stroke-width="0.63"/>
<path d="M370.60 191.60 L372.40 192.30 L368.80 193.70 L372.40 195.10 L368.80 196.50 L372.40 197.90 L368.80 199.30 L370.60 200.00" fill="none" stroke="#565656" stroke-width="0.63"/>
<path d="M370.60 200.00 L370.60 210.30" fill="none" stroke="#565656" stroke-width="0.63"/>
<path d="M367.20 210.30 L374.00 210.30" fill="none" stroke="#565656" stroke-width="0.65"/>
<path d="M368.40 211.75 L372.80 211.75" fill="none" stroke="#565656" stroke-width="0.65"/>
<path d="M369.60 213.20 L371.60 213.20" fill="none" stroke="#565656" stroke-width="0.65"/>
<text transform="translate(374.50 195.20) scale(0.1)" font-size="32.1" text-anchor="start" fill="#000" stroke="#000" stroke-width="0.50" >R6520</text>
<text transform="translate(374.50 198.25) scale(0.1)" font-size="32.1" text-anchor="start" fill="#000" stroke="#000" stroke-width="0.50" >47K</text>
<circle cx="458.20" cy="184.30" r="10.9" fill="none" stroke="#565656" stroke-width="0.63"/>
<path d="M448.20 182.60 L448.74 181.60 L449.82 183.60 L450.91 181.60 L451.99 183.60 L453.07 181.60 L454.16 183.60 L454.70 182.60" fill="none" stroke="#565656" stroke-width="0.63"/>
<path d="M447.50 182.60 L448.20 182.60" fill="none" stroke="#565656" stroke-width="0.63"/>
<path d="M454.70 182.60 L460.50 182.60" fill="none" stroke="#565656" stroke-width="0.63"/>
<path d="M455.60 182.90 L456.60 183.67 L454.60 185.20 L456.60 186.73 L454.60 188.27 L456.60 189.80 L454.60 191.33 L455.60 192.10" fill="none" stroke="#565656" stroke-width="0.63"/>
<rect x="460.30" y="180.20" width="1.5" height="4.6" fill="#000"/>
<path d="M461.70 181.30 L465.80 178.30 L467.00 178.30" fill="none" stroke="#565656" stroke-width="0.63"/>
<path d="M461.70 183.80 L464.30 185.20 L464.30 191.90 L455.60 191.90" fill="none" stroke="#565656" stroke-width="0.63"/>
<path d="M464.30 185.30 l-1.9 -0.2 l0.9 -1.5 Z" fill="#000"/>
<text transform="translate(452.50 180.40) scale(0.1)" font-size="24.6" text-anchor="middle" fill="#000" stroke="#000" stroke-width="0.50" >4.7K</text>
<text transform="translate(457.20 188.80) scale(0.1)" font-size="24.6" text-anchor="start" fill="#000" stroke="#000" stroke-width="0.50" >4.7K</text>
<path d="M455.60 192.10 L455.60 205.60" fill="none" stroke="#565656" stroke-width="0.63"/>
<path d="M452.20 205.60 L459.00 205.60" fill="none" stroke="#565656" stroke-width="0.65"/>
<path d="M453.40 207.05 L457.80 207.05" fill="none" stroke="#565656" stroke-width="0.65"/>
<path d="M454.60 208.50 L456.60 208.50" fill="none" stroke="#565656" stroke-width="0.65"/>
<text transform="translate(445.60 175.70) scale(0.1)" font-size="32.1" text-anchor="middle" fill="#000" stroke="#000" stroke-width="0.50" >Q6503</text>
<path d="M467.00 178.30 L503.00 178.30 L651.60 178.30" fill="none" stroke="#565656" stroke-width="0.63"/>
<path d="M651.60 178.30 L653.60 176.80 L657.20 176.80 L658.90 178.30 L657.20 179.80 L653.60 179.80 Z" fill="#fff" stroke="#565656" stroke-width="0.63"/>
<text transform="translate(660.10 179.35) scale(0.1)" font-size="32.1" text-anchor="start" fill="#000" stroke="#000" stroke-width="0.50" >IGNITION_SENSE</text>
<circle cx="503.00" cy="178.30" r="1.15" fill="#000"/>
<path d="M503.00 148.20 L500.40 151.70 L505.60 151.70 Z" fill="#000"/>
<text transform="translate(503.00 147.40) scale(0.1)" font-size="32.1" text-anchor="middle" fill="#000" stroke="#000" stroke-width="0.50" >VCC2.85</text>
<path d="M503.00 151.70 L503.00 160.00" fill="none" stroke="#565656" stroke-width="0.63"/>
<path d="M503.00 160.00 L504.80 160.83 L501.20 162.50 L504.80 164.17 L501.20 165.83 L504.80 167.50 L501.20 169.17 L503.00 170.00" fill="none" stroke="#565656" stroke-width="0.63"/>
<path d="M503.00 170.00 L503.00 178.30" fill="none" stroke="#565656" stroke-width="0.63"/>
<text transform="translate(507.00 165.50) scale(0.1)" font-size="32.1" text-anchor="start" fill="#000" stroke="#000" stroke-width="0.50" >R6564</text>
<text transform="translate(507.00 168.55) scale(0.1)" font-size="32.1" text-anchor="start" fill="#000" stroke="#000" stroke-width="0.50" >100K</text>
<rect x="103.80" y="205.00" width="144.50" height="83.30" fill="none" stroke="#909090" stroke-width="0.95" stroke-dasharray="5.5 1.6"/>
<text transform="translate(179.00 211.60) scale(0.1)" font-size="46.0" text-anchor="middle" fill="#000" stroke="#000" stroke-width="0.50" >9V Regulator</text>
<path d="M112.60 219.50 L110.00 223.00 L115.20 223.00 Z" fill="#000"/>
<text transform="translate(112.60 219.10) scale(0.1)" font-size="32.1" text-anchor="middle" fill="#000" stroke="#000" stroke-width="0.50" >SW_A+</text>
<path d="M112.60 223.00 L112.60 233.40" fill="none" stroke="#565656" stroke-width="0.63"/>
<path d="M112.60 233.40 L158.50 233.40" fill="none" stroke="#565656" stroke-width="0.63"/>
<circle cx="112.60" cy="233.40" r="1.15" fill="#000"/>
<circle cx="133.70" cy="233.40" r="1.15" fill="#000"/>
<path d="M112.60 233.40 L112.60 245.50" fill="none" stroke="#565656" stroke-width="0.63"/>
<path d="M112.60 247.50 L112.60 260.40" fill="none" stroke="#565656" stroke-width="0.63"/>
<path d="M109.40 245.50 L115.80 245.50" fill="none" stroke="#565656" stroke-width="0.63"/>
<path d="M109.40 247.50 L115.80 247.50" fill="none" stroke="#565656" stroke-width="0.63"/>
<path d="M109.20 260.40 L116.00 260.40" fill="none" stroke="#565656" stroke-width="0.65"/>
<path d="M110.40 261.85 L114.80 261.85" fill="none" stroke="#565656" stroke-width="0.65"/>
<path d="M111.60 263.30 L113.60 263.30" fill="none" stroke="#565656" stroke-width="0.65"/>
<text transform="translate(116.50 245.90) scale(0.1)" font-size="32.1" text-anchor="start" fill="#000" stroke="#000" stroke-width="0.50" >C6501</text>
<text transform="translate(116.50 248.95) scale(0.1)" font-size="32.1" text-anchor="start" fill="#000" stroke="#000" stroke-width="0.50" >0.1µF</text>
<path d="M133.70 233.40 L133.70 245.50" fill="none" stroke="#565656" stroke-width="0.63"/>
<path d="M133.70 247.50 L133.70 260.40" fill="none" stroke="#565656" stroke-width="0.63"/>
<path d="M130.50 245.50 L136.90 245.50" fill="none" stroke="#565656" stroke-width="0.63"/>
<path d="M130.50 247.50 L136.90 247.50" fill="none" stroke="#565656" stroke-width="0.63"/>
<path d="M130.30 260.40 L137.10 260.40" fill="none" stroke="#565656" stroke-width="0.65"/>
<path d="M131.50 261.85 L135.90 261.85" fill="none" stroke="#565656" stroke-width="0.65"/>
<path d="M132.70 263.30 L134.70 263.30" fill="none" stroke="#565656" stroke-width="0.65"/>
<text transform="translate(137.70 245.90) scale(0.1)" font-size="32.1" text-anchor="start" fill="#000" stroke="#000" stroke-width="0.50" >C6502</text>
<text transform="translate(137.70 248.95) scale(0.1)" font-size="32.1" text-anchor="start" fill="#000" stroke="#000" stroke-width="0.50" >1µF</text>
<path d="M171.70 250.30 L171.70 258.30" fill="none" stroke="#565656" stroke-width="0.63"/>
<path d="M176.00 250.30 L176.00 258.30" fill="none" stroke="#565656" stroke-width="0.63"/>
<rect x="158.50" y="225.70" width="26.80" height="24.60" fill="#fff" stroke="#000" stroke-width="1.40"/>
<text transform="translate(171.90 220.50) scale(0.1)" font-size="32.1" text-anchor="middle" fill="#000" stroke="#000" stroke-width="0.50" >U6505</text>
<text transform="translate(171.90 223.70) scale(0.1)" font-size="32.1" text-anchor="middle" fill="#000" stroke="#000" stroke-width="0.50" >LM2941</text>
<text transform="translate(160.00 234.30) scale(0.1)" font-size="32.1" text-anchor="start" fill="#000" stroke="#000" stroke-width="0.50" >VIN</text>
<text transform="translate(160.00 240.90) scale(0.1)" font-size="28.9" text-anchor="start" fill="#000" stroke="#000" stroke-width="0.50" >ON_OFF</text>
<text transform="translate(183.90 234.30) scale(0.1)" font-size="32.1" text-anchor="end" fill="#000" stroke="#000" stroke-width="0.50" >VOUT</text>
<text transform="translate(183.90 240.90) scale(0.1)" font-size="26.8" text-anchor="end" fill="#000" stroke="#000" stroke-width="0.50" >ADJ</text>
<text transform="translate(172.60 249.30) rotate(-90) scale(0.1)" font-size="24.6" text-anchor="start" fill="#000" stroke="#000" stroke-width="0.50" >GND</text>
<text transform="translate(176.90 249.30) rotate(-90) scale(0.1)" font-size="24.6" text-anchor="start" fill="#000" stroke="#000" stroke-width="0.50" >GND</text>
<text transform="translate(157.00 232.40) scale(0.1)" font-size="24.6" text-anchor="end" fill="#000" stroke="#000" stroke-width="0.50" >4</text>
<text transform="translate(157.00 240.80) scale(0.1)" font-size="24.6" text-anchor="end" fill="#000" stroke="#000" stroke-width="0.50" >2</text>
<text transform="translate(186.60 232.40) scale(0.1)" font-size="24.6" text-anchor="start" fill="#000" stroke="#000" stroke-width="0.50" >5</text>
<text transform="translate(186.60 240.80) scale(0.1)" font-size="24.6" text-anchor="start" fill="#000" stroke="#000" stroke-width="0.50" >1</text>
<path d="M158.50 241.60 L150.60 241.60 L150.60 258.30 L176.00 258.30 L176.00 268.60" fill="none" stroke="#565656" stroke-width="0.63"/>
<path d="M172.60 268.60 L179.40 268.60" fill="none" stroke="#565656" stroke-width="0.65"/>
<path d="M173.80 270.05 L178.20 270.05" fill="none" stroke="#565656" stroke-width="0.65"/>
<path d="M175.00 271.50 L177.00 271.50" fill="none" stroke="#565656" stroke-width="0.65"/>
<circle cx="171.70" cy="258.30" r="1.15" fill="#000"/>
<circle cx="176.00" cy="258.30" r="1.15" fill="#000"/>
<path d="M185.30 233.20 L192.30 233.20 L192.30 229.10 L230.50 229.10" fill="none" stroke="#565656" stroke-width="0.63"/>
<circle cx="201.50" cy="229.00" r="1.15" fill="#000"/>
<circle cx="218.00" cy="229.00" r="1.15" fill="#000"/>
<circle cx="230.50" cy="229.00" r="1.15" fill="#000"/>
<path d="M230.50 215.70 L227.90 219.20 L233.10 219.20 Z" fill="#000"/>
<text transform="translate(230.50 215.00) scale(0.1)" font-size="32.1" text-anchor="middle" fill="#000" stroke="#000" stroke-width="0.50" >VCC9</text>
<path d="M230.50 219.20 L230.50 229.00" fill="none" stroke="#565656" stroke-width="0.63"/>
<path d="M230.50 229.00 L230.50 240.50" fill="none" stroke="#565656" stroke-width="0.63"/>
<path d="M230.50 242.50 L230.50 256.70" fill="none" stroke="#565656" stroke-width="0.63"/>
<path d="M227.30 240.50 L233.70 240.50" fill="none" stroke="#565656" stroke-width="0.63"/>
<path d="M227.30 242.50 L233.70 242.50" fill="none" stroke="#565656" stroke-width="0.63"/>
<path d="M227.10 256.70 L233.90 256.70" fill="none" stroke="#565656" stroke-width="0.65"/>
<path d="M228.30 258.15 L232.70 258.15" fill="none" stroke="#565656" stroke-width="0.65"/>
<path d="M229.50 259.60 L231.50 259.60" fill="none" stroke="#565656" stroke-width="0.65"/>
<text transform="translate(235.00 241.30) scale(0.1)" font-size="32.1" text-anchor="start" fill="#000" stroke="#000" stroke-width="0.50" >C6524</text>
<text transform="translate(235.00 244.35) scale(0.1)" font-size="32.1" text-anchor="start" fill="#000" stroke="#000" stroke-width="0.50" >0.1µF</text>
<path d="M201.50 229.00 L201.50 237.00" fill="none" stroke="#565656" stroke-width="0.63"/>
<path d="M201.50 237.00 L203.30 237.83 L199.70 239.50 L203.30 241.17 L199.70 242.83 L203.30 244.50 L199.70 246.17 L201.50 247.00" fill="none" stroke="#565656" stroke-width="0.63"/>
<path d="M201.50 247.00 L201.50 254.50" fill="none" stroke="#565656" stroke-width="0.63"/>
<text transform="translate(205.50 241.00) scale(0.1)" font-size="32.1" text-anchor="start" fill="#000" stroke="#000" stroke-width="0.50" >R6529</text>
<text transform="translate(205.50 244.05) scale(0.1)" font-size="32.1" text-anchor="start" fill="#000" stroke="#000" stroke-width="0.50" >7.5K</text>
<path d="M201.50 254.50 L192.70 254.50" fill="none" stroke="#565656" stroke-width="0.63"/>
<path d="M185.30 241.60 L192.70 241.60 L192.70 254.50" fill="none" stroke="#565656" stroke-width="0.63"/>
<circle cx="192.70" cy="254.50" r="1.15" fill="#000"/>
<path d="M192.70 254.50 L192.70 263.30" fill="none" stroke="#565656" stroke-width="0.63"/>
<path d="M192.70 263.30 L194.50 263.98 L190.90 265.35 L194.50 266.72 L190.90 268.08 L194.50 269.45 L190.90 270.82 L192.70 271.50" fill="none" stroke="#565656" stroke-width="0.63"/>
<path d="M192.70 271.50 L192.70 283.00" fill="none" stroke="#565656" stroke-width="0.63"/>
<path d="M189.30 283.00 L196.10 283.00" fill="none" stroke="#565656" stroke-width="0.65"/>
<path d="M190.50 284.45 L194.90 284.45" fill="none" stroke="#565656" stroke-width="0.65"/>
<path d="M191.70 285.90 L193.70 285.90" fill="none" stroke="#565656" stroke-width="0.65"/>
<text transform="translate(196.80 267.50) scale(0.1)" font-size="32.1" text-anchor="start" fill="#000" stroke="#000" stroke-width="0.50" >R6528</text>
<text transform="translate(196.80 270.55) scale(0.1)" font-size="32.1" text-anchor="start" fill="#000" stroke="#000" stroke-width="0.50" >1.2K</text>
<path d="M218.00 229.00 L218.00 266.50" fill="none" stroke="#565656" stroke-width="0.63"/>
<path d="M218.00 268.50 L218.00 283.00" fill="none" stroke="#565656" stroke-width="0.63"/>
<path d="M214.80 266.50 L221.20 266.50" fill="none" stroke="#565656" stroke-width="0.63"/>
<path d="M214.80 269.30 Q218.00 267.90 221.20 269.30" fill="none" stroke="#565656" stroke-width="0.63"/>
<path d="M214.60 283.00 L221.40 283.00" fill="none" stroke="#565656" stroke-width="0.65"/>
<path d="M215.80 284.45 L220.20 284.45" fill="none" stroke="#565656" stroke-width="0.65"/>
<path d="M217.00 285.90 L219.00 285.90" fill="none" stroke="#565656" stroke-width="0.65"/>
<text transform="translate(222.50 267.00) scale(0.1)" font-size="32.1" text-anchor="start" fill="#000" stroke="#000" stroke-width="0.50" >C6523</text>
<text transform="translate(222.50 270.05) scale(0.1)" font-size="32.1" text-anchor="start" fill="#000" stroke="#000" stroke-width="0.50" >33µF</text>
<text transform="translate(214.90 263.60) scale(0.1)" font-size="27.8" text-anchor="middle" fill="#000" stroke="#000" stroke-width="0.50" >+</text>
<path d="M294.80 212.00 L292.20 215.50 L297.40 215.50 Z" fill="#000"/>
<text transform="translate(294.80 211.30) scale(0.1)" font-size="32.1" text-anchor="middle" fill="#000" stroke="#000" stroke-width="0.50" >VCC2.85</text>
<path d="M294.80 215.50 L294.80 224.30" fill="none" stroke="#565656" stroke-width="0.63"/>
<path d="M294.80 224.30 L296.60 225.09 L293.00 226.68 L296.60 228.26 L293.00 229.84 L296.60 231.43 L293.00 233.01 L294.80 233.80" fill="none" stroke="#565656" stroke-width="0.63"/>
<path d="M294.80 233.80 L294.80 241.70" fill="none" stroke="#565656" stroke-width="0.63"/>
<text transform="translate(291.80 228.80) scale(0.1)" font-size="32.1" text-anchor="end" fill="#000" stroke="#000" stroke-width="0.50" >R6565</text>
<text transform="translate(291.80 232.20) scale(0.1)" font-size="32.1" text-anchor="end" fill="#000" stroke="#000" stroke-width="0.50" >10K</text>
<path d="M311.00 212.00 L308.40 215.50 L313.60 215.50 Z" fill="#000"/>
<text transform="translate(311.00 211.30) scale(0.1)" font-size="32.1" text-anchor="middle" fill="#000" stroke="#000" stroke-width="0.50" >SW_A+</text>
<path d="M311.00 215.50 L311.00 224.30" fill="none" stroke="#565656" stroke-width="0.63"/>
<path d="M311.00 224.30 L312.80 225.09 L309.20 226.68 L312.80 228.26 L309.20 229.84 L312.80 231.43 L309.20 233.01 L311.00 233.80" fill="none" stroke="#565656" stroke-width="0.63"/>
<path d="M311.00 233.80 L311.00 250.40" fill="none" stroke="#565656" stroke-width="0.63"/>
<text transform="translate(308.00 228.80) scale(0.1)" font-size="32.1" text-anchor="end" fill="#000" stroke="#000" stroke-width="0.50" >R6509</text>
<text transform="translate(308.00 232.20) scale(0.1)" font-size="32.1" text-anchor="end" fill="#000" stroke="#000" stroke-width="0.50" >10K</text>
<circle cx="294.80" cy="241.70" r="1.15" fill="#000"/>
<circle cx="311.00" cy="250.40" r="1.15" fill="#000"/>
<circle cx="320.00" cy="241.70" r="1.15" fill="#000"/>
<circle cx="320.00" cy="250.40" r="1.15" fill="#000"/>
<path d="M294.80 241.70 L328.50 241.70" fill="none" stroke="#565656" stroke-width="0.63"/>
<path d="M311.00 250.40 L328.50 250.40" fill="none" stroke="#565656" stroke-width="0.63"/>
<path d="M294.80 241.70 L294.80 250.80" fill="none" stroke="#565656" stroke-width="0.63"/>
<path d="M294.80 250.80 L296.60 251.51 L293.00 252.93 L296.60 254.34 L293.00 255.76 L296.60 257.18 L293.00 258.59 L294.80 259.30" fill="none" stroke="#565656" stroke-width="0.63"/>
<path d="M294.80 259.30 L294.80 271.10" fill="none" stroke="#565656" stroke-width="0.63"/>
<text transform="translate(298.50 254.00) scale(0.1)" font-size="32.1" text-anchor="start" fill="#000" stroke="#000" stroke-width="0.50" >R6508</text>
<text transform="translate(298.50 257.05) scale(0.1)" font-size="32.1" text-anchor="start" fill="#000" stroke="#000" stroke-width="0.50" >10K</text>
<path d="M311.00 250.40 L311.00 264.00" fill="none" stroke="#565656" stroke-width="0.63"/>
<path d="M311.00 264.00 L312.80 264.71 L309.20 266.12 L312.80 267.54 L309.20 268.96 L312.80 270.38 L309.20 271.79 L311.00 272.50" fill="none" stroke="#565656" stroke-width="0.63"/>
<path d="M311.00 272.50 L311.00 283.00" fill="none" stroke="#565656" stroke-width="0.63"/>
<path d="M307.60 283.00 L314.40 283.00" fill="none" stroke="#565656" stroke-width="0.65"/>
<path d="M308.80 284.45 L313.20 284.45" fill="none" stroke="#565656" stroke-width="0.65"/>
<path d="M310.00 285.90 L312.00 285.90" fill="none" stroke="#565656" stroke-width="0.65"/>
<text transform="translate(315.00 267.20) scale(0.1)" font-size="32.1" text-anchor="start" fill="#000" stroke="#000" stroke-width="0.50" >R6539</text>
<text transform="translate(315.00 270.25) scale(0.1)" font-size="32.1" text-anchor="start" fill="#000" stroke="#000" stroke-width="0.50" >24K</text>
<path d="M320.00 241.70 L320.00 208.20" fill="none" stroke="#565656" stroke-width="0.63"/>
<path d="M320.00 208.20 L339.50 208.20" fill="none" stroke="#565656" stroke-width="0.63"/>
<path d="M341.50 208.20 L353.60 208.20" fill="none" stroke="#565656" stroke-width="0.63"/>
<path d="M339.50 205.20 L339.50 211.20" fill="none" stroke="#565656" stroke-width="0.63"/>
<path d="M341.50 205.20 L341.50 211.20" fill="none" stroke="#565656" stroke-width="0.63"/>
<path d="M353.60 208.20 L353.60 223.40" fill="none" stroke="#565656" stroke-width="0.63"/>
<path d="M350.20 223.40 L357.00 223.40" fill="none" stroke="#565656" stroke-width="0.65"/>
<path d="M351.40 224.85 L355.80 224.85" fill="none" stroke="#565656" stroke-width="0.65"/>
<path d="M352.60 226.30 L354.60 226.30" fill="none" stroke="#565656" stroke-width="0.65"/>
<text transform="translate(340.40 204.40) scale(0.1)" font-size="32.1" text-anchor="middle" fill="#000" stroke="#000" stroke-width="0.50" >C6502</text>
<text transform="translate(340.40 214.40) scale(0.1)" font-size="32.1" text-anchor="middle" fill="#000" stroke="#000" stroke-width="0.50" >100pF</text>
<path d="M328.5 235.7 L328.5 256 L349.7 245.8 Z" fill="#fff" stroke="#565656" stroke-width="0.63"/>
<text transform="translate(330.00 242.60) scale(0.1)" font-size="32.1" text-anchor="start" fill="#000" stroke="#000" stroke-width="0.50" >-</text>
<text transform="translate(330.00 251.40) scale(0.1)" font-size="27.8" text-anchor="start" fill="#000" stroke="#000" stroke-width="0.50" >+</text>
<text transform="translate(327.30 240.60) scale(0.1)" font-size="24.6" text-anchor="end" fill="#000" stroke="#000" stroke-width="0.50" >6</text>
<text transform="translate(327.30 249.40) scale(0.1)" font-size="24.6" text-anchor="end" fill="#000" stroke="#000" stroke-width="0.50" >5</text>
<text transform="translate(351.00 244.60) scale(0.1)" font-size="24.6" text-anchor="start" fill="#000" stroke="#000" stroke-width="0.50" >7</text>
<text transform="translate(342.20 239.20) scale(0.1)" font-size="24.6" text-anchor="start" fill="#000" stroke="#000" stroke-width="0.50" >8</text>
<text transform="translate(342.20 254.60) scale(0.1)" font-size="24.6" text-anchor="start" fill="#000" stroke="#000" stroke-width="0.50" >4</text>
<path d="M341.00 224.90 L338.40 228.40 L343.60 228.40 Z" fill="#000"/>
<text transform="translate(341.00 224.20) scale(0.1)" font-size="32.1" text-anchor="middle" fill="#000" stroke="#000" stroke-width="0.50" >VCC2.85</text>
<path d="M341.00 228.40 L341.00 241.70" fill="none" stroke="#565656" stroke-width="0.63"/>
<path d="M341.00 250.00 L341.00 261.20" fill="none" stroke="#565656" stroke-width="0.63"/>
<path d="M337.60 261.20 L344.40 261.20" fill="none" stroke="#565656" stroke-width="0.65"/>
<path d="M338.80 262.65 L343.20 262.65" fill="none" stroke="#565656" stroke-width="0.65"/>
<path d="M340.00 264.10 L342.00 264.10" fill="none" stroke="#565656" stroke-width="0.65"/>
<path d="M349.70 245.80 L370.00 245.80" fill="none" stroke="#565656" stroke-width="0.63"/>
<path d="M370.00 245.80 L372.00 244.30 L375.60 244.30 L377.30 245.80 L375.60 247.30 L372.00 247.30 Z" fill="#fff" stroke="#565656" stroke-width="0.63"/>
<text transform="translate(378.50 246.85) scale(0.1)" font-size="32.1" text-anchor="start" fill="#000" stroke="#000" stroke-width="0.50" >SW_B+_SENSE</text>
<text transform="translate(347.60 253.00) scale(0.1)" font-size="32.1" text-anchor="start" fill="#000" stroke="#000" stroke-width="0.50" >MC33202</text>
<text transform="translate(347.60 257.40) scale(0.1)" font-size="32.1" text-anchor="start" fill="#000" stroke="#000" stroke-width="0.50" >U6504-2</text>
<path d="M320.00 250.40 L320.00 258.40 L328.00 258.40" fill="none" stroke="#565656" stroke-width="0.63"/>
<path d="M328.00 258.40 L328.00 266.50" fill="none" stroke="#565656" stroke-width="0.63"/>
<path d="M328.00 268.50 L328.00 283.00" fill="none" stroke="#565656" stroke-width="0.63"/>
<path d="M324.80 266.50 L331.20 266.50" fill="none" stroke="#565656" stroke-width="0.63"/>
<path d="M324.80 268.50 L331.20 268.50" fill="none" stroke="#565656" stroke-width="0.63"/>
<path d="M324.60 283.00 L331.40 283.00" fill="none" stroke="#565656" stroke-width="0.65"/>
<path d="M325.80 284.45 L330.20 284.45" fill="none" stroke="#565656" stroke-width="0.65"/>
<path d="M327.00 285.90 L329.00 285.90" fill="none" stroke="#565656" stroke-width="0.65"/>
<text transform="translate(332.70 266.80) scale(0.1)" font-size="32.1" text-anchor="start" fill="#000" stroke="#000" stroke-width="0.50" >C6561</text>
<text transform="translate(332.70 269.85) scale(0.1)" font-size="32.1" text-anchor="start" fill="#000" stroke="#000" stroke-width="0.50" >100pF</text>
<path d="M261.30 262.40 L258.70 265.90 L263.90 265.90 Z" fill="#000"/>
<text transform="translate(263.20 260.80) scale(0.1)" font-size="32.1" text-anchor="middle" fill="#000" stroke="#000" stroke-width="0.50" >SW_B+_ON-OFF</text>
<path d="M261.30 265.90 L261.30 276.50 L265.40 276.50" fill="none" stroke="#565656" stroke-width="0.63"/>
<circle cx="276.10" cy="278.20" r="10.9" fill="none" stroke="#565656" stroke-width="0.63"/>
<path d="M266.10 276.50 L266.64 275.50 L267.72 277.50 L268.81 275.50 L269.89 277.50 L270.97 275.50 L272.06 277.50 L272.60 276.50" fill="none" stroke="#565656" stroke-width="0.63"/>
<path d="M265.40 276.50 L266.10 276.50" fill="none" stroke="#565656" stroke-width="0.63"/>
<path d="M272.60 276.50 L278.40 276.50" fill="none" stroke="#565656" stroke-width="0.63"/>
<path d="M273.50 276.80 L274.50 277.57 L272.50 279.10 L274.50 280.63 L272.50 282.17 L274.50 283.70 L272.50 285.23 L273.50 286.00" fill="none" stroke="#565656" stroke-width="0.63"/>
<rect x="278.20" y="274.10" width="1.5" height="4.6" fill="#000"/>
<path d="M279.60 275.20 L283.70 272.20 L284.90 272.20" fill="none" stroke="#565656" stroke-width="0.63"/>
<path d="M279.60 277.70 L282.20 279.10 L282.20 285.80 L273.50 285.80" fill="none" stroke="#565656" stroke-width="0.63"/>
<path d="M282.20 279.20 l-1.9 -0.2 l0.9 -1.5 Z" fill="#000"/>
<text transform="translate(270.40 274.30) scale(0.1)" font-size="24.6" text-anchor="middle" fill="#000" stroke="#000" stroke-width="0.50" >4.7K</text>
<text transform="translate(275.10 282.70) scale(0.1)" font-size="24.6" text-anchor="start" fill="#000" stroke="#000" stroke-width="0.50" >4.7K</text>
<path d="M273.50 286.00 L273.50 299.50" fill="none" stroke="#565656" stroke-width="0.63"/>
<path d="M270.10 299.50 L276.90 299.50" fill="none" stroke="#565656" stroke-width="0.65"/>
<path d="M271.30 300.95 L275.70 300.95" fill="none" stroke="#565656" stroke-width="0.65"/>
<path d="M272.50 302.40 L274.50 302.40" fill="none" stroke="#565656" stroke-width="0.65"/>
<text transform="translate(289.80 278.00) scale(0.1)" font-size="32.1" text-anchor="start" fill="#000" stroke="#000" stroke-width="0.50" >Q6505</text>
<path d="M284.90 272.20 L286.80 270.90 L294.80 270.90 L294.80 259.30" fill="none" stroke="#565656" stroke-width="0.63"/>
<path d="M294.80 288.60 L292.20 292.10 L297.40 292.10 Z" fill="#000"/>
<text transform="translate(294.80 288.00) scale(0.1)" font-size="32.1" text-anchor="middle" fill="#000" stroke="#000" stroke-width="0.50" >VCC9</text>
<path d="M294.80 292.10 L294.80 296.20 L307.30 296.20 L307.30 288.30 L332.30 288.30" fill="none" stroke="#565656" stroke-width="0.63"/>
<rect x="332.30" y="284.20" width="30.70" height="12.80" fill="#fff" stroke="#000" stroke-width="1.40"/>
<text transform="translate(347.20 279.20) scale(0.1)" font-size="32.1" text-anchor="middle" fill="#000" stroke="#000" stroke-width="0.50" >U6564</text>
<text transform="translate(347.20 282.30) scale(0.1)" font-size="32.1" text-anchor="middle" fill="#000" stroke="#000" stroke-width="0.50" >X3244</text>
<text transform="translate(334.00 289.60) scale(0.1)" font-size="32.1" text-anchor="start" fill="#000" stroke="#000" stroke-width="0.50" >INPUT</text>
<text transform="translate(334.00 293.80) scale(0.1)" font-size="32.1" text-anchor="start" fill="#000" stroke="#000" stroke-width="0.50" >CD</text>
<text transform="translate(361.40 289.60) scale(0.1)" font-size="32.1" text-anchor="end" fill="#000" stroke="#000" stroke-width="0.50" >OUTPUT</text>
<text transform="translate(361.40 293.80) scale(0.1)" font-size="32.1" text-anchor="end" fill="#000" stroke="#000" stroke-width="0.50" >VO</text>
<text transform="translate(348.00 296.20) rotate(-90) scale(0.1)" font-size="24.6" text-anchor="start" fill="#000" stroke="#000" stroke-width="0.50" >GND</text>
<text transform="translate(331.00 287.40) scale(0.1)" font-size="24.6" text-anchor="end" fill="#000" stroke="#000" stroke-width="0.50" >1</text>
<text transform="translate(331.00 291.80) scale(0.1)" font-size="24.6" text-anchor="end" fill="#000" stroke="#000" stroke-width="0.50" >8</text>
<path d="M332.30 292.50 L311.50 292.50" fill="none" stroke="#565656" stroke-width="0.63"/>
<path d="M311.50 292.50 L311.50 305.50" fill="none" stroke="#565656" stroke-width="0.63"/>
<path d="M311.50 307.50 L311.50 320.80" fill="none" stroke="#565656" stroke-width="0.63"/>
<path d="M308.30 305.50 L314.70 305.50" fill="none" stroke="#565656" stroke-width="0.63"/>
<path d="M308.30 307.50 L314.70 307.50" fill="none" stroke="#565656" stroke-width="0.63"/>
<path d="M308.10 320.80 L314.90 320.80" fill="none" stroke="#565656" stroke-width="0.65"/>
<path d="M309.30 322.25 L313.70 322.25" fill="none" stroke="#565656" stroke-width="0.65"/>
<path d="M310.50 323.70 L312.50 323.70" fill="none" stroke="#565656" stroke-width="0.65"/>
<text transform="translate(316.00 305.50) scale(0.1)" font-size="32.1" text-anchor="start" fill="#000" stroke="#000" stroke-width="0.50" >C6518</text>
<text transform="translate(316.00 308.55) scale(0.1)" font-size="32.1" text-anchor="start" fill="#000" stroke="#000" stroke-width="0.50" >.01µF</text>
<path d="M347.00 297.00 L347.00 307.80" fill="none" stroke="#565656" stroke-width="0.63"/>
<path d="M343.60 307.80 L350.40 307.80" fill="none" stroke="#565656" stroke-width="0.65"/>
<path d="M344.80 309.25 L349.20 309.25" fill="none" stroke="#565656" stroke-width="0.65"/>
<path d="M346.00 310.70 L348.00 310.70" fill="none" stroke="#565656" stroke-width="0.65"/>
<text transform="translate(345.60 300.60) scale(0.1)" font-size="24.6" text-anchor="end" fill="#000" stroke="#000" stroke-width="0.50" >2</text>
<path d="M363.00 288.30 L371.30 288.30 L371.30 301.30 L654.30 301.30" fill="none" stroke="#565656" stroke-width="0.63"/>
<path d="M363.00 292.50 L365.60 292.50" fill="none" stroke="#565656" stroke-width="0.63"/>
<path d="M365.60 286.60 L365.60 294.20" fill="none" stroke="#565656" stroke-width="0.45"/>
<path d="M654.30 301.30 L656.30 299.80 L659.90 299.80 L661.60 301.30 L659.90 302.80 L656.30 302.80 Z" fill="#fff" stroke="#565656" stroke-width="0.63"/>
<text transform="translate(662.80 302.35) scale(0.1)" font-size="32.1" text-anchor="start" fill="#000" stroke="#000" stroke-width="0.50" >LV_DETECT</text>
<rect x="103.80" y="305.30" width="199.80" height="119.00" fill="none" stroke="#909090" stroke-width="0.95" stroke-dasharray="6.5 1.6"/>
<text transform="translate(207.20 313.20) scale(0.1)" font-size="46.0" text-anchor="middle" fill="#000" stroke="#000" stroke-width="0.50" >5V Regulator</text>
<path d="M116.60 318.00 L114.00 321.50 L119.20 321.50 Z" fill="#000"/>
<text transform="translate(116.60 317.30) scale(0.1)" font-size="32.1" text-anchor="middle" fill="#000" stroke="#000" stroke-width="0.50" >VCC9</text>
<path d="M116.60 321.50 L116.60 335.00 L176.60 335.00 L176.60 343.50 L192.70 343.50" fill="none" stroke="#565656" stroke-width="0.63"/>
<circle cx="129.30" cy="335.00" r="1.15" fill="#000"/>
<circle cx="154.90" cy="335.00" r="1.15" fill="#000"/>
<path d="M129.30 335.00 L129.30 346.50" fill="none" stroke="#565656" stroke-width="0.63"/>
<path d="M129.30 348.50 L129.30 361.20" fill="none" stroke="#565656" stroke-width="0.63"/>
<path d="M126.10 346.50 L132.50 346.50" fill="none" stroke="#565656" stroke-width="0.63"/>
<path d="M126.10 348.50 L132.50 348.50" fill="none" stroke="#565656" stroke-width="0.63"/>
<path d="M125.90 361.20 L132.70 361.20" fill="none" stroke="#565656" stroke-width="0.65"/>
<path d="M127.10 362.65 L131.50 362.65" fill="none" stroke="#565656" stroke-width="0.65"/>
<path d="M128.30 364.10 L130.30 364.10" fill="none" stroke="#565656" stroke-width="0.65"/>
<text transform="translate(133.80 346.80) scale(0.1)" font-size="32.1" text-anchor="start" fill="#000" stroke="#000" stroke-width="0.50" >C6516</text>
<text transform="translate(133.80 349.85) scale(0.1)" font-size="32.1" text-anchor="start" fill="#000" stroke="#000" stroke-width="0.50" >0.1µF</text>
<path d="M154.90 335.00 L154.90 346.50" fill="none" stroke="#565656" stroke-width="0.63"/>
<path d="M154.90 348.50 L154.90 361.20" fill="none" stroke="#565656" stroke-width="0.63"/>
<path d="M151.70 346.50 L158.10 346.50" fill="none" stroke="#565656" stroke-width="0.63"/>
<path d="M151.70 348.50 L158.10 348.50" fill="none" stroke="#565656" stroke-width="0.63"/>
<path d="M151.50 361.20 L158.30 361.20" fill="none" stroke="#565656" stroke-width="0.65"/>
<path d="M152.70 362.65 L157.10 362.65" fill="none" stroke="#565656" stroke-width="0.65"/>
<path d="M153.90 364.10 L155.90 364.10" fill="none" stroke="#565656" stroke-width="0.65"/>
<text transform="translate(159.40 346.80) scale(0.1)" font-size="32.1" text-anchor="start" fill="#000" stroke="#000" stroke-width="0.50" >C6517</text>
<text transform="translate(159.40 349.85) scale(0.1)" font-size="32.1" text-anchor="start" fill="#000" stroke="#000" stroke-width="0.50" >4.7µF</text>
<rect x="192.70" y="332.50" width="25.90" height="19.50" fill="#fff" stroke="#000" stroke-width="1.40"/>
<text transform="translate(205.70 327.30) scale(0.1)" font-size="32.1" text-anchor="middle" fill="#000" stroke="#000" stroke-width="0.50" >U6502</text>
<text transform="translate(205.70 330.50) scale(0.1)" font-size="32.1" text-anchor="middle" fill="#000" stroke="#000" stroke-width="0.50" >MC78M05</text>
<text transform="translate(194.20 344.60) scale(0.1)" font-size="32.1" text-anchor="start" fill="#000" stroke="#000" stroke-width="0.50" >IN</text>
<text transform="translate(217.20 344.60) scale(0.1)" font-size="32.1" text-anchor="end" fill="#000" stroke="#000" stroke-width="0.50" >OUT</text>
<text transform="translate(206.40 351.00) rotate(-90) scale(0.1)" font-size="24.6" text-anchor="start" fill="#000" stroke="#000" stroke-width="0.50" >GND</text>
<text transform="translate(191.40 342.60) scale(0.1)" font-size="24.6" text-anchor="end" fill="#000" stroke="#000" stroke-width="0.50" >1</text>
<text transform="translate(220.00 342.60) scale(0.1)" font-size="24.6" text-anchor="start" fill="#000" stroke="#000" stroke-width="0.50" >3</text>
<text transform="translate(204.20 356.00) scale(0.1)" font-size="24.6" text-anchor="end" fill="#000" stroke="#000" stroke-width="0.50" >2</text>
<path d="M205.40 352.00 L205.40 366.00" fill="none" stroke="#565656" stroke-width="0.63"/>
<path d="M202.00 366.00 L208.80 366.00" fill="none" stroke="#565656" stroke-width="0.65"/>
<path d="M203.20 367.45 L207.60 367.45" fill="none" stroke="#565656" stroke-width="0.65"/>
<path d="M204.40 368.90 L206.40 368.90" fill="none" stroke="#565656" stroke-width="0.65"/>
<path d="M218.60 343.50 L239.30 343.50" fill="none" stroke="#565656" stroke-width="0.63"/>
<circle cx="239.30" cy="343.50" r="1.15" fill="#000"/>
<path d="M239.30 343.50 L239.30 335.20 L277.00 335.20" fill="none" stroke="#565656" stroke-width="0.63"/>
<path d="M277.00 335.20 L277.79 333.40 L279.38 337.00 L280.96 333.40 L282.54 337.00 L284.12 333.40 L285.71 337.00 L286.50 335.20" fill="none" stroke="#565656" stroke-width="0.63"/>
<path d="M286.50 335.20 L294.60 335.20 L294.60 321.80" fill="none" stroke="#565656" stroke-width="0.63"/>
<path d="M294.60 318.50 L292.00 322.00 L297.20 322.00 Z" fill="#000"/>
<text transform="translate(294.60 317.70) scale(0.1)" font-size="32.1" text-anchor="middle" fill="#000" stroke="#000" stroke-width="0.50" >VCC5_FILT</text>
<circle cx="250.00" cy="335.20" r="1.15" fill="#000"/>
<circle cx="260.80" cy="335.20" r="1.15" fill="#000"/>
<path d="M250.00 322.20 L247.40 325.70 L252.60 325.70 Z" fill="#000"/>
<text transform="translate(250.00 321.50) scale(0.1)" font-size="32.1" text-anchor="middle" fill="#000" stroke="#000" stroke-width="0.50" >VCC5</text>
<path d="M250.00 325.70 L250.00 335.20" fill="none" stroke="#565656" stroke-width="0.63"/>
<path d="M239.30 343.50 L239.30 355.50" fill="none" stroke="#565656" stroke-width="0.63"/>
<path d="M239.30 357.50 L239.30 369.70" fill="none" stroke="#565656" stroke-width="0.63"/>
<path d="M236.10 355.50 L242.50 355.50" fill="none" stroke="#565656" stroke-width="0.63"/>
<path d="M236.10 357.50 L242.50 357.50" fill="none" stroke="#565656" stroke-width="0.63"/>
<path d="M235.90 369.70 L242.70 369.70" fill="none" stroke="#565656" stroke-width="0.65"/>
<path d="M237.10 371.15 L241.50 371.15" fill="none" stroke="#565656" stroke-width="0.65"/>
<path d="M238.30 372.60 L240.30 372.60" fill="none" stroke="#565656" stroke-width="0.65"/>
<text transform="translate(243.60 356.50) scale(0.1)" font-size="32.1" text-anchor="start" fill="#000" stroke="#000" stroke-width="0.50" >C6526</text>
<text transform="translate(243.60 359.55) scale(0.1)" font-size="32.1" text-anchor="start" fill="#000" stroke="#000" stroke-width="0.50" >0.1µF</text>
<path d="M260.80 335.20 L260.80 347.50" fill="none" stroke="#565656" stroke-width="0.63"/>
<path d="M260.80 349.50 L260.80 361.60" fill="none" stroke="#565656" stroke-width="0.63"/>
<path d="M257.60 347.50 L264.00 347.50" fill="none" stroke="#565656" stroke-width="0.63"/>
<path d="M257.60 349.50 L264.00 349.50" fill="none" stroke="#565656" stroke-width="0.63"/>
<path d="M257.40 361.60 L264.20 361.60" fill="none" stroke="#565656" stroke-width="0.65"/>
<path d="M258.60 363.05 L263.00 363.05" fill="none" stroke="#565656" stroke-width="0.65"/>
<path d="M259.80 364.50 L261.80 364.50" fill="none" stroke="#565656" stroke-width="0.65"/>
<text transform="translate(265.20 347.70) scale(0.1)" font-size="32.1" text-anchor="start" fill="#000" stroke="#000" stroke-width="0.50" >C6519</text>
<text transform="translate(265.20 350.75) scale(0.1)" font-size="32.1" text-anchor="start" fill="#000" stroke="#000" stroke-width="0.50" >4.7µF</text>
<text transform="translate(282.00 332.20) scale(0.1)" font-size="32.1" text-anchor="middle" fill="#000" stroke="#000" stroke-width="0.50" >R6519</text>
<text transform="translate(282.00 341.00) scale(0.1)" font-size="32.1" text-anchor="middle" fill="#000" stroke="#000" stroke-width="0.50" >1Ω</text>
<path d="M142.00 379.70 L139.40 383.20 L144.60 383.20 Z" fill="#000"/>
<text transform="translate(142.00 379.00) scale(0.1)" font-size="32.1" text-anchor="middle" fill="#000" stroke="#000" stroke-width="0.50" >9.3V_ABACUS</text>
<path d="M142.00 383.20 L142.00 392.50 L192.70 392.50" fill="none" stroke="#565656" stroke-width="0.63"/>
<circle cx="150.50" cy="392.50" r="1.15" fill="#000"/>
<circle cx="171.90" cy="392.50" r="1.15" fill="#000"/>
<path d="M150.50 392.50 L150.50 404.50" fill="none" stroke="#565656" stroke-width="0.63"/>
<path d="M150.50 406.50 L150.50 416.60" fill="none" stroke="#565656" stroke-width="0.63"/>
<path d="M147.30 404.50 L153.70 404.50" fill="none" stroke="#565656" stroke-width="0.63"/>
<path d="M147.30 406.50 L153.70 406.50" fill="none" stroke="#565656" stroke-width="0.63"/>
<path d="M147.10 416.60 L153.90 416.60" fill="none" stroke="#565656" stroke-width="0.65"/>
<path d="M148.30 418.05 L152.70 418.05" fill="none" stroke="#565656" stroke-width="0.65"/>
<path d="M149.50 419.50 L151.50 419.50" fill="none" stroke="#565656" stroke-width="0.65"/>
<text transform="translate(155.00 405.20) scale(0.1)" font-size="32.1" text-anchor="start" fill="#000" stroke="#000" stroke-width="0.50" >C6530</text>
<text transform="translate(155.00 408.25) scale(0.1)" font-size="32.1" text-anchor="start" fill="#000" stroke="#000" stroke-width="0.50" >0.1µF</text>
<path d="M171.90 392.50 L171.90 404.50" fill="none" stroke="#565656" stroke-width="0.63"/>
<path d="M171.90 406.50 L171.90 416.60" fill="none" stroke="#565656" stroke-width="0.63"/>
<path d="M168.70 404.50 L175.10 404.50" fill="none" stroke="#565656" stroke-width="0.63"/>
<path d="M168.70 406.50 L175.10 406.50" fill="none" stroke="#565656" stroke-width="0.63"/>
<path d="M168.50 416.60 L175.30 416.60" fill="none" stroke="#565656" stroke-width="0.65"/>
<path d="M169.70 418.05 L174.10 418.05" fill="none" stroke="#565656" stroke-width="0.65"/>
<path d="M170.90 419.50 L172.90 419.50" fill="none" stroke="#565656" stroke-width="0.65"/>
<text transform="translate(176.40 405.20) scale(0.1)" font-size="32.1" text-anchor="start" fill="#000" stroke="#000" stroke-width="0.50" >C6531</text>
<text transform="translate(176.40 408.25) scale(0.1)" font-size="32.1" text-anchor="start" fill="#000" stroke="#000" stroke-width="0.50" >4.7µF</text>
<rect x="192.70" y="381.50" width="25.90" height="19.50" fill="#fff" stroke="#000" stroke-width="1.40"/>
<text transform="translate(205.70 376.30) scale(0.1)" font-size="32.1" text-anchor="middle" fill="#000" stroke="#000" stroke-width="0.50" >U6503</text>
<text transform="translate(205.70 379.50) scale(0.1)" font-size="32.1" text-anchor="middle" fill="#000" stroke="#000" stroke-width="0.50" >MC78M05</text>
<text transform="translate(194.20 393.60) scale(0.1)" font-size="32.1" text-anchor="start" fill="#000" stroke="#000" stroke-width="0.50" >IN</text>
<text transform="translate(217.20 393.60) scale(0.1)" font-size="32.1" text-anchor="end" fill="#000" stroke="#000" stroke-width="0.50" >OUT</text>
<text transform="translate(206.40 400.00) rotate(-90) scale(0.1)" font-size="24.6" text-anchor="start" fill="#000" stroke="#000" stroke-width="0.50" >GND</text>
<text transform="translate(191.40 391.60) scale(0.1)" font-size="24.6" text-anchor="end" fill="#000" stroke="#000" stroke-width="0.50" >1</text>
<text transform="translate(220.00 391.60) scale(0.1)" font-size="24.6" text-anchor="start" fill="#000" stroke="#000" stroke-width="0.50" >3</text>
<text transform="translate(204.20 405.00) scale(0.1)" font-size="24.6" text-anchor="end" fill="#000" stroke="#000" stroke-width="0.50" >2</text>
<path d="M205.40 401.00 L205.40 410.40" fill="none" stroke="#565656" stroke-width="0.63"/>
<path d="M202.00 410.40 L208.80 410.40" fill="none" stroke="#565656" stroke-width="0.65"/>
<path d="M203.20 411.85 L207.60 411.85" fill="none" stroke="#565656" stroke-width="0.65"/>
<path d="M204.40 413.30 L206.40 413.30" fill="none" stroke="#565656" stroke-width="0.65"/>
<path d="M218.60 392.50 L256.20 392.50" fill="none" stroke="#565656" stroke-width="0.63"/>
<circle cx="235.10" cy="392.50" r="1.15" fill="#000"/>
<circle cx="256.20" cy="392.50" r="1.15" fill="#000"/>
<path d="M256.20 380.30 L253.60 383.80 L258.80 383.80 Z" fill="#000"/>
<text transform="translate(256.20 379.60) scale(0.1)" font-size="32.1" text-anchor="middle" fill="#000" stroke="#000" stroke-width="0.50" >5V_ABACUS</text>
<path d="M256.20 383.80 L256.20 392.50" fill="none" stroke="#565656" stroke-width="0.63"/>
<path d="M235.10 392.50 L235.10 404.50" fill="none" stroke="#565656" stroke-width="0.63"/>
<path d="M235.10 406.50 L235.10 416.60" fill="none" stroke="#565656" stroke-width="0.63"/>
<path d="M231.90 404.50 L238.30 404.50" fill="none" stroke="#565656" stroke-width="0.63"/>
<path d="M231.90 406.50 L238.30 406.50" fill="none" stroke="#565656" stroke-width="0.63"/>
<path d="M231.70 416.60 L238.50 416.60" fill="none" stroke="#565656" stroke-width="0.65"/>
<path d="M232.90 418.05 L237.30 418.05" fill="none" stroke="#565656" stroke-width="0.65"/>
<path d="M234.10 419.50 L236.10 419.50" fill="none" stroke="#565656" stroke-width="0.65"/>
<text transform="translate(239.50 405.20) scale(0.1)" font-size="32.1" text-anchor="start" fill="#000" stroke="#000" stroke-width="0.50" >C6533</text>
<text transform="translate(239.50 408.25) scale(0.1)" font-size="32.1" text-anchor="start" fill="#000" stroke="#000" stroke-width="0.50" >4.7µF</text>
<path d="M256.20 392.50 L256.20 404.50" fill="none" stroke="#565656" stroke-width="0.63"/>
<path d="M256.20 406.50 L256.20 416.60" fill="none" stroke="#565656" stroke-width="0.63"/>
<path d="M253.00 404.50 L259.40 404.50" fill="none" stroke="#565656" stroke-width="0.63"/>
<path d="M253.00 406.50 L259.40 406.50" fill="none" stroke="#565656" stroke-width="0.63"/>
<path d="M252.80 416.60 L259.60 416.60" fill="none" stroke="#565656" stroke-width="0.65"/>
<path d="M254.00 418.05 L258.40 418.05" fill="none" stroke="#565656" stroke-width="0.65"/>
<path d="M255.20 419.50 L257.20 419.50" fill="none" stroke="#565656" stroke-width="0.65"/>
<text transform="translate(260.60 405.20) scale(0.1)" font-size="32.1" text-anchor="start" fill="#000" stroke="#000" stroke-width="0.50" >C6532</text>
<text transform="translate(260.60 408.25) scale(0.1)" font-size="32.1" text-anchor="start" fill="#000" stroke="#000" stroke-width="0.50" >0.1µF</text>
<path d="M317.00 364.80 L314.40 368.30 L319.60 368.30 Z" fill="#000"/>
<text transform="translate(317.00 364.20) scale(0.1)" font-size="32.1" text-anchor="middle" fill="#000" stroke="#000" stroke-width="0.50" >VCC3</text>
<path d="M317.00 368.30 L317.00 385.50" fill="none" stroke="#565656" stroke-width="0.63"/>
<path d="M317.00 387.50 L317.00 399.20" fill="none" stroke="#565656" stroke-width="0.63"/>
<path d="M313.80 385.50 L320.20 385.50" fill="none" stroke="#565656" stroke-width="0.63"/>
<path d="M313.80 388.30 Q317.00 386.90 320.20 388.30" fill="none" stroke="#565656" stroke-width="0.63"/>
<text transform="translate(321.00 386.20) scale(0.1)" font-size="32.1" text-anchor="start" fill="#000" stroke="#000" stroke-width="0.50" >C6527</text>
<text transform="translate(321.00 389.25) scale(0.1)" font-size="32.1" text-anchor="start" fill="#000" stroke="#000" stroke-width="0.50" >1µF</text>
<text transform="translate(321.00 392.80) scale(0.1)" font-size="32.1" text-anchor="start" fill="#000" stroke="#000" stroke-width="0.50" >NP</text>
<circle cx="317.00" cy="399.20" r="1.15" fill="#000"/>
<path d="M317.00 399.20 L317.00 405.40" fill="none" stroke="#565656" stroke-width="0.63"/>
<path d="M317.00 405.40 L318.80 406.07 L315.20 407.42 L318.80 408.77 L315.20 410.12 L318.80 411.48 L315.20 412.82 L317.00 413.50" fill="none" stroke="#565656" stroke-width="0.63"/>
<path d="M317.00 413.50 L317.00 423.80" fill="none" stroke="#565656" stroke-width="0.63"/>
<path d="M313.60 423.80 L320.40 423.80" fill="none" stroke="#565656" stroke-width="0.65"/>
<path d="M314.80 425.25 L319.20 425.25" fill="none" stroke="#565656" stroke-width="0.65"/>
<path d="M316.00 426.70 L318.00 426.70" fill="none" stroke="#565656" stroke-width="0.65"/>
<text transform="translate(321.00 408.60) scale(0.1)" font-size="32.1" text-anchor="start" fill="#000" stroke="#000" stroke-width="0.50" >R6514</text>
<text transform="translate(321.00 411.65) scale(0.1)" font-size="32.1" text-anchor="start" fill="#000" stroke="#000" stroke-width="0.50" >0</text>
<path d="M317.00 399.20 L330.60 399.20 L330.60 428.40 L586.60 428.40 L586.60 384.20 L591.20 381.30 L595.00 381.30" fill="none" stroke="#565656" stroke-width="0.63"/>
<circle cx="497.80" cy="428.40" r="1.15" fill="#000"/>
<rect x="337.00" y="312.80" width="356.80" height="111.40" fill="none" stroke="#909090" stroke-width="0.95" stroke-dasharray="5.5 1.6"/>
<text transform="translate(415.00 321.00) scale(0.1)" font-size="46.0" text-anchor="middle" fill="#000" stroke="#000" stroke-width="0.50" >1.55V Digital Supply Regulator</text>
<path d="M349.50 356.80 L346.90 360.30 L352.10 360.30 Z" fill="#000"/>
<text transform="translate(349.50 356.00) scale(0.1)" font-size="32.1" text-anchor="middle" fill="#000" stroke="#000" stroke-width="0.50" >VCC5_FILT</text>
<path d="M349.50 360.30 L349.50 377.40 L396.00 377.40" fill="none" stroke="#565656" stroke-width="0.63"/>
<circle cx="349.50" cy="377.40" r="1.15" fill="#000"/>
<circle cx="370.50" cy="377.40" r="1.15" fill="#000"/>
<path d="M349.50 377.40 L349.50 389.50" fill="none" stroke="#565656" stroke-width="0.63"/>
<path d="M349.50 391.50 L349.50 405.40" fill="none" stroke="#565656" stroke-width="0.63"/>
<path d="M346.30 389.50 L352.70 389.50" fill="none" stroke="#565656" stroke-width="0.63"/>
<path d="M346.30 392.30 Q349.50 390.90 352.70 392.30" fill="none" stroke="#565656" stroke-width="0.63"/>
<path d="M346.10 405.40 L352.90 405.40" fill="none" stroke="#565656" stroke-width="0.65"/>
<path d="M347.30 406.85 L351.70 406.85" fill="none" stroke="#565656" stroke-width="0.65"/>
<path d="M348.50 408.30 L350.50 408.30" fill="none" stroke="#565656" stroke-width="0.65"/>
<text transform="translate(354.00 390.20) scale(0.1)" font-size="32.1" text-anchor="start" fill="#000" stroke="#000" stroke-width="0.50" >C6514</text>
<text transform="translate(354.00 393.25) scale(0.1)" font-size="32.1" text-anchor="start" fill="#000" stroke="#000" stroke-width="0.50" >150µF</text>
<text transform="translate(346.00 388.00) scale(0.1)" font-size="27.8" text-anchor="middle" fill="#000" stroke="#000" stroke-width="0.50" >+</text>
<path d="M370.50 377.40 L370.50 389.50" fill="none" stroke="#565656" stroke-width="0.63"/>
<path d="M370.50 391.50 L370.50 405.40" fill="none" stroke="#565656" stroke-width="0.63"/>
<path d="M367.30 389.50 L373.70 389.50" fill="none" stroke="#565656" stroke-width="0.63"/>
<path d="M367.30 391.50 L373.70 391.50" fill="none" stroke="#565656" stroke-width="0.63"/>
<path d="M367.10 405.40 L373.90 405.40" fill="none" stroke="#565656" stroke-width="0.65"/>
<path d="M368.30 406.85 L372.70 406.85" fill="none" stroke="#565656" stroke-width="0.65"/>
<path d="M369.50 408.30 L371.50 408.30" fill="none" stroke="#565656" stroke-width="0.65"/>
<text transform="translate(375.00 390.20) scale(0.1)" font-size="32.1" text-anchor="start" fill="#000" stroke="#000" stroke-width="0.50" >C6515</text>
<text transform="translate(375.00 393.25) scale(0.1)" font-size="32.1" text-anchor="start" fill="#000" stroke="#000" stroke-width="0.50" >0.1µF</text>
<path d="M370.50 347.30 L370.50 339.40" fill="none" stroke="#565656" stroke-width="0.63"/>
<path d="M447.00 339.40 L447.00 377.40" fill="none" stroke="#565656" stroke-width="0.63"/>
<path d="M370.50 347.30 L372.30 348.19 L368.70 349.98 L372.30 351.76 L368.70 353.54 L372.30 355.32 L368.70 357.11 L370.50 358.00" fill="none" stroke="#565656" stroke-width="0.63"/>
<path d="M370.50 358.00 L370.50 367.60" fill="none" stroke="#565656" stroke-width="0.63"/>
<path d="M367.10 367.60 L373.90 367.60" fill="none" stroke="#565656" stroke-width="0.65"/>
<path d="M368.30 369.05 L372.70 369.05" fill="none" stroke="#565656" stroke-width="0.65"/>
<path d="M369.50 370.50 L371.50 370.50" fill="none" stroke="#565656" stroke-width="0.65"/>
<text transform="translate(374.50 350.80) scale(0.1)" font-size="32.1" text-anchor="start" fill="#000" stroke="#000" stroke-width="0.50" >R6513</text>
<text transform="translate(374.50 353.85) scale(0.1)" font-size="32.1" text-anchor="start" fill="#000" stroke="#000" stroke-width="0.50" >39K</text>
<path d="M370.50 339.40 L412.50 339.40" fill="none" stroke="#565656" stroke-width="0.63"/>
<path d="M414.50 339.40 L447.00 339.40" fill="none" stroke="#565656" stroke-width="0.63"/>
<path d="M412.50 336.40 L412.50 342.40" fill="none" stroke="#565656" stroke-width="0.63"/>
<path d="M414.50 336.40 L414.50 342.40" fill="none" stroke="#565656" stroke-width="0.63"/>
<text transform="translate(413.00 335.30) scale(0.1)" font-size="32.1" text-anchor="middle" fill="#000" stroke="#000" stroke-width="0.50" >C6508</text>
<text transform="translate(413.00 345.30) scale(0.1)" font-size="32.1" text-anchor="middle" fill="#000" stroke="#000" stroke-width="0.50" >.01µF</text>
<circle cx="387.70" cy="339.40" r="1.15" fill="#000"/>
<circle cx="387.70" cy="355.80" r="1.15" fill="#000"/>
<circle cx="447.00" cy="355.80" r="1.15" fill="#000"/>
<path d="M387.70 355.80 L408.40 355.80" fill="none" stroke="#565656" stroke-width="0.63"/>
<path d="M408.40 355.80 L409.18 354.00 L410.75 357.60 L412.32 354.00 L413.88 357.60 L415.45 354.00 L417.02 357.60 L417.80 355.80" fill="none" stroke="#565656" stroke-width="0.63"/>
<path d="M417.80 355.80 L447.00 355.80" fill="none" stroke="#565656" stroke-width="0.63"/>
<text transform="translate(413.00 352.30) scale(0.1)" font-size="32.1" text-anchor="middle" fill="#000" stroke="#000" stroke-width="0.50" >R6512</text>
<text transform="translate(413.00 361.70) scale(0.1)" font-size="32.1" text-anchor="middle" fill="#000" stroke="#000" stroke-width="0.50" >10K</text>
<path d="M387.70 339.40 L387.70 379.00 L391.80 381.60 L396.00 381.60" fill="none" stroke="#565656" stroke-width="0.63"/>
<path d="M396.00 385.90 L391.80 385.90 L387.70 388.60 L387.70 411.00 L413.20 411.00" fill="none" stroke="#565656" stroke-width="0.63"/>
<rect x="396.00" y="373.40" width="34.60" height="25.10" fill="#fff" stroke="#000" stroke-width="1.40"/>
<text transform="translate(413.80 368.40) scale(0.1)" font-size="32.1" text-anchor="middle" fill="#000" stroke="#000" stroke-width="0.50" >U6502</text>
<text transform="translate(413.80 371.60) scale(0.1)" font-size="32.1" text-anchor="middle" fill="#000" stroke="#000" stroke-width="0.50" >LP2951CD</text>
<text transform="translate(397.40 378.45) scale(0.1)" font-size="32.1" text-anchor="start" fill="#000" stroke="#000" stroke-width="0.50" >INPUT</text>
<text transform="translate(429.20 378.45) scale(0.1)" font-size="32.1" text-anchor="end" fill="#000" stroke="#000" stroke-width="0.50" >OUTPUT</text>
<text transform="translate(397.40 382.70) scale(0.1)" font-size="32.1" text-anchor="start" fill="#000" stroke="#000" stroke-width="0.50" >FEEDBACK</text>
<text transform="translate(429.20 382.70) scale(0.1)" font-size="32.1" text-anchor="end" fill="#000" stroke="#000" stroke-width="0.50" >ERROR</text>
<text transform="translate(397.40 386.95) scale(0.1)" font-size="32.1" text-anchor="start" fill="#000" stroke="#000" stroke-width="0.50" >SHUTDOWN</text>
<text transform="translate(429.20 386.95) scale(0.1)" font-size="32.1" text-anchor="end" fill="#000" stroke="#000" stroke-width="0.50" >SENSE</text>
<text transform="translate(429.20 391.20) scale(0.1)" font-size="32.1" text-anchor="end" fill="#000" stroke="#000" stroke-width="0.50" >VTAP</text>
<text transform="translate(414.10 397.50) rotate(-90) scale(0.1)" font-size="24.6" text-anchor="start" fill="#000" stroke="#000" stroke-width="0.50" >GND</text>
<text transform="translate(394.80 376.60) scale(0.1)" font-size="24.6" text-anchor="end" fill="#000" stroke="#000" stroke-width="0.50" >8</text>
<text transform="translate(394.80 380.80) scale(0.1)" font-size="24.6" text-anchor="end" fill="#000" stroke="#000" stroke-width="0.50" >7</text>
<text transform="translate(394.80 385.10) scale(0.1)" font-size="24.6" text-anchor="end" fill="#000" stroke="#000" stroke-width="0.50" >3</text>
<text transform="translate(431.60 376.60) scale(0.1)" font-size="24.6" text-anchor="start" fill="#000" stroke="#000" stroke-width="0.50" >1</text>
<text transform="translate(431.60 380.80) scale(0.1)" font-size="24.6" text-anchor="start" fill="#000" stroke="#000" stroke-width="0.50" >5</text>
<text transform="translate(431.60 385.10) scale(0.1)" font-size="24.6" text-anchor="start" fill="#000" stroke="#000" stroke-width="0.50" >2</text>
<text transform="translate(431.60 389.30) scale(0.1)" font-size="24.6" text-anchor="start" fill="#000" stroke="#000" stroke-width="0.50" >6</text>
<text transform="translate(411.90 402.10) scale(0.1)" font-size="24.6" text-anchor="end" fill="#000" stroke="#000" stroke-width="0.50" >4</text>
<path d="M430.60 385.90 L433.80 385.90 L433.80 390.20 L430.60 390.20" fill="none" stroke="#565656" stroke-width="0.50"/>
<path d="M430.60 377.40 L468.60 377.40 L468.60 368.30" fill="none" stroke="#565656" stroke-width="0.63"/>
<path d="M468.60 365.00 L466.00 368.50 L471.20 368.50 Z" fill="#000"/>
<text transform="translate(468.60 364.20) scale(0.1)" font-size="32.1" text-anchor="middle" fill="#000" stroke="#000" stroke-width="0.50" >VCC1.55</text>
<circle cx="447.00" cy="377.40" r="1.15" fill="#000"/>
<circle cx="451.40" cy="377.40" r="1.15" fill="#000"/>
<path d="M451.40 377.40 L451.40 389.50" fill="none" stroke="#565656" stroke-width="0.63"/>
<path d="M451.40 391.50 L451.40 409.50" fill="none" stroke="#565656" stroke-width="0.63"/>
<path d="M448.20 389.50 L454.60 389.50" fill="none" stroke="#565656" stroke-width="0.63"/>
<path d="M448.20 391.50 L454.60 391.50" fill="none" stroke="#565656" stroke-width="0.63"/>
<path d="M448.00 409.50 L454.80 409.50" fill="none" stroke="#565656" stroke-width="0.65"/>
<path d="M449.20 410.95 L453.60 410.95" fill="none" stroke="#565656" stroke-width="0.65"/>
<path d="M450.40 412.40 L452.40 412.40" fill="none" stroke="#565656" stroke-width="0.65"/>
<text transform="translate(456.00 390.00) scale(0.1)" font-size="32.1" text-anchor="start" fill="#000" stroke="#000" stroke-width="0.50" >C6513</text>
<text transform="translate(456.00 393.05) scale(0.1)" font-size="32.1" text-anchor="start" fill="#000" stroke="#000" stroke-width="0.50" >4.7µF</text>
<path d="M430.60 381.60 L438.90 381.60 L438.90 415.20 L510.50 415.20 L510.50 301.30" fill="none" stroke="#565656" stroke-width="0.63"/>
<circle cx="510.50" cy="301.30" r="1.15" fill="#000"/>
<path d="M413.20 398.50 L413.20 417.80" fill="none" stroke="#565656" stroke-width="0.63"/>
<path d="M409.80 417.80 L416.60 417.80" fill="none" stroke="#565656" stroke-width="0.65"/>
<path d="M411.00 419.25 L415.40 419.25" fill="none" stroke="#565656" stroke-width="0.65"/>
<path d="M412.20 420.70 L414.20 420.70" fill="none" stroke="#565656" stroke-width="0.65"/>
<circle cx="413.20" cy="411.00" r="1.15" fill="#000"/>
<text transform="translate(605.50 321.00) scale(0.1)" font-size="46.0" text-anchor="middle" fill="#000" stroke="#000" stroke-width="0.50" >1.8V Digital Supply Regulator</text>
<path d="M544.30 353.50 L541.70 357.00 L546.90 357.00 Z" fill="#000"/>
<text transform="translate(544.30 352.70) scale(0.1)" font-size="32.1" text-anchor="middle" fill="#000" stroke="#000" stroke-width="0.50" >VCC5_FILT</text>
<path d="M544.30 357.00 L544.30 373.40 L595.00 373.40" fill="none" stroke="#565656" stroke-width="0.63"/>
<circle cx="565.10" cy="373.40" r="1.15" fill="#000"/>
<path d="M565.10 373.40 L565.10 388.50" fill="none" stroke="#565656" stroke-width="0.63"/>
<path d="M565.10 390.50 L565.10 406.20" fill="none" stroke="#565656" stroke-width="0.63"/>
<path d="M561.90 388.50 L568.30 388.50" fill="none" stroke="#565656" stroke-width="0.63"/>
<path d="M561.90 390.50 L568.30 390.50" fill="none" stroke="#565656" stroke-width="0.63"/>
<path d="M561.70 406.20 L568.50 406.20" fill="none" stroke="#565656" stroke-width="0.65"/>
<path d="M562.90 407.65 L567.30 407.65" fill="none" stroke="#565656" stroke-width="0.65"/>
<path d="M564.10 409.10 L566.10 409.10" fill="none" stroke="#565656" stroke-width="0.65"/>
<text transform="translate(569.60 389.30) scale(0.1)" font-size="32.1" text-anchor="start" fill="#000" stroke="#000" stroke-width="0.50" >C6528</text>
<text transform="translate(569.60 392.35) scale(0.1)" font-size="32.1" text-anchor="start" fill="#000" stroke="#000" stroke-width="0.50" >0.1µF</text>
<path d="M569.30 343.00 L569.30 335.10" fill="none" stroke="#565656" stroke-width="0.63"/>
<path d="M646.10 335.10 L646.10 373.40" fill="none" stroke="#565656" stroke-width="0.63"/>
<path d="M569.30 343.00 L571.10 343.79 L567.50 345.38 L571.10 346.96 L567.50 348.54 L571.10 350.12 L567.50 351.71 L569.30 352.50" fill="none" stroke="#565656" stroke-width="0.63"/>
<path d="M569.30 352.50 L569.30 367.50" fill="none" stroke="#565656" stroke-width="0.63"/>
<path d="M565.90 367.50 L572.70 367.50" fill="none" stroke="#565656" stroke-width="0.65"/>
<path d="M567.10 368.95 L571.50 368.95" fill="none" stroke="#565656" stroke-width="0.65"/>
<path d="M568.30 370.40 L570.30 370.40" fill="none" stroke="#565656" stroke-width="0.65"/>
<text transform="translate(573.30 346.60) scale(0.1)" font-size="32.1" text-anchor="start" fill="#000" stroke="#000" stroke-width="0.50" >R6521</text>
<text transform="translate(573.30 349.65) scale(0.1)" font-size="32.1" text-anchor="start" fill="#000" stroke="#000" stroke-width="0.50" >39K</text>
<path d="M569.30 335.10 L611.50 335.10" fill="none" stroke="#565656" stroke-width="0.63"/>
<path d="M613.50 335.10 L646.10 335.10" fill="none" stroke="#565656" stroke-width="0.63"/>
<path d="M611.50 332.10 L611.50 338.10" fill="none" stroke="#565656" stroke-width="0.63"/>
<path d="M613.50 332.10 L613.50 338.10" fill="none" stroke="#565656" stroke-width="0.63"/>
<text transform="translate(612.20 331.00) scale(0.1)" font-size="32.1" text-anchor="middle" fill="#000" stroke="#000" stroke-width="0.50" >C6506</text>
<text transform="translate(612.20 341.00) scale(0.1)" font-size="32.1" text-anchor="middle" fill="#000" stroke="#000" stroke-width="0.50" >.01µF</text>
<circle cx="586.60" cy="335.10" r="1.15" fill="#000"/>
<circle cx="586.60" cy="352.00" r="1.15" fill="#000"/>
<circle cx="646.10" cy="352.00" r="1.15" fill="#000"/>
<path d="M586.60 352.00 L606.40 352.00" fill="none" stroke="#565656" stroke-width="0.63"/>
<path d="M606.40 352.00 L607.27 350.20 L609.00 353.80 L610.73 350.20 L612.47 353.80 L614.20 350.20 L615.93 353.80 L616.80 352.00" fill="none" stroke="#565656" stroke-width="0.63"/>
<path d="M616.80 352.00 L646.10 352.00" fill="none" stroke="#565656" stroke-width="0.63"/>
<text transform="translate(612.00 348.50) scale(0.1)" font-size="32.1" text-anchor="middle" fill="#000" stroke="#000" stroke-width="0.50" >R6522</text>
<text transform="translate(612.00 357.90) scale(0.1)" font-size="32.1" text-anchor="middle" fill="#000" stroke="#000" stroke-width="0.50" >20K</text>
<path d="M586.60 335.10 L586.60 374.80 L591.20 377.50 L595.00 377.50" fill="none" stroke="#565656" stroke-width="0.63"/>
<rect x="595.00" y="369.30" width="34.60" height="25.10" fill="#fff" stroke="#000" stroke-width="1.40"/>
<text transform="translate(612.80 364.30) scale(0.1)" font-size="32.1" text-anchor="middle" fill="#000" stroke="#000" stroke-width="0.50" >U6507</text>
<text transform="translate(612.80 367.50) scale(0.1)" font-size="32.1" text-anchor="middle" fill="#000" stroke="#000" stroke-width="0.50" >LP2951CD</text>
<text transform="translate(596.40 374.35) scale(0.1)" font-size="32.1" text-anchor="start" fill="#000" stroke="#000" stroke-width="0.50" >INPUT</text>
<text transform="translate(628.20 374.35) scale(0.1)" font-size="32.1" text-anchor="end" fill="#000" stroke="#000" stroke-width="0.50" >OUTPUT</text>
<text transform="translate(596.40 378.60) scale(0.1)" font-size="32.1" text-anchor="start" fill="#000" stroke="#000" stroke-width="0.50" >FEEDBACK</text>
<text transform="translate(628.20 378.60) scale(0.1)" font-size="32.1" text-anchor="end" fill="#000" stroke="#000" stroke-width="0.50" >ERROR</text>
<text transform="translate(596.40 382.85) scale(0.1)" font-size="32.1" text-anchor="start" fill="#000" stroke="#000" stroke-width="0.50" >SHUTDOWN</text>
<text transform="translate(628.20 382.85) scale(0.1)" font-size="32.1" text-anchor="end" fill="#000" stroke="#000" stroke-width="0.50" >SENSE</text>
<text transform="translate(628.20 387.10) scale(0.1)" font-size="32.1" text-anchor="end" fill="#000" stroke="#000" stroke-width="0.50" >VTAP</text>
<text transform="translate(613.10 393.40) rotate(-90) scale(0.1)" font-size="24.6" text-anchor="start" fill="#000" stroke="#000" stroke-width="0.50" >GND</text>
<text transform="translate(593.80 372.50) scale(0.1)" font-size="24.6" text-anchor="end" fill="#000" stroke="#000" stroke-width="0.50" >8</text>
<text transform="translate(593.80 376.70) scale(0.1)" font-size="24.6" text-anchor="end" fill="#000" stroke="#000" stroke-width="0.50" >7</text>
<text transform="translate(593.80 381.00) scale(0.1)" font-size="24.6" text-anchor="end" fill="#000" stroke="#000" stroke-width="0.50" >3</text>
<text transform="translate(630.60 372.50) scale(0.1)" font-size="24.6" text-anchor="start" fill="#000" stroke="#000" stroke-width="0.50" >1</text>
<text transform="translate(630.60 376.70) scale(0.1)" font-size="24.6" text-anchor="start" fill="#000" stroke="#000" stroke-width="0.50" >5</text>
<text transform="translate(630.60 381.00) scale(0.1)" font-size="24.6" text-anchor="start" fill="#000" stroke="#000" stroke-width="0.50" >2</text>
<text transform="translate(630.60 385.20) scale(0.1)" font-size="24.6" text-anchor="start" fill="#000" stroke="#000" stroke-width="0.50" >6</text>
<text transform="translate(610.90 398.00) scale(0.1)" font-size="24.6" text-anchor="end" fill="#000" stroke="#000" stroke-width="0.50" >4</text>
<path d="M629.60 381.80 L632.80 381.80 L632.80 386.10 L629.60 386.10" fill="none" stroke="#565656" stroke-width="0.50"/>
<path d="M629.60 373.40 L680.00 373.40 L680.00 366.20" fill="none" stroke="#565656" stroke-width="0.63"/>
<path d="M680.00 362.90 L677.40 366.40 L682.60 366.40 Z" fill="#000"/>
<text transform="translate(680.00 362.10) scale(0.1)" font-size="32.1" text-anchor="middle" fill="#000" stroke="#000" stroke-width="0.50" >VCC1.8</text>
<circle cx="646.10" cy="373.40" r="1.15" fill="#000"/>
<circle cx="662.60" cy="373.40" r="1.15" fill="#000"/>
<path d="M662.60 373.40 L662.60 388.50" fill="none" stroke="#565656" stroke-width="0.63"/>
<path d="M662.60 390.50 L662.60 406.20" fill="none" stroke="#565656" stroke-width="0.63"/>
<path d="M659.40 388.50 L665.80 388.50" fill="none" stroke="#565656" stroke-width="0.63"/>
<path d="M659.40 390.50 L665.80 390.50" fill="none" stroke="#565656" stroke-width="0.63"/>
<path d="M659.20 406.20 L666.00 406.20" fill="none" stroke="#565656" stroke-width="0.65"/>
<path d="M660.40 407.65 L664.80 407.65" fill="none" stroke="#565656" stroke-width="0.65"/>
<path d="M661.60 409.10 L663.60 409.10" fill="none" stroke="#565656" stroke-width="0.65"/>
<text transform="translate(667.00 389.50) scale(0.1)" font-size="32.1" text-anchor="start" fill="#000" stroke="#000" stroke-width="0.50" >C6529</text>
<text transform="translate(667.00 392.55) scale(0.1)" font-size="32.1" text-anchor="start" fill="#000" stroke="#000" stroke-width="0.50" >4.7µF</text>
<path d="M629.60 377.50 L646.10 377.50 L646.10 415.40 L523.20 415.40 L523.20 301.30" fill="none" stroke="#565656" stroke-width="0.63"/>
<circle cx="523.20" cy="301.30" r="1.15" fill="#000"/>
<path d="M611.70 394.40 L611.70 408.60" fill="none" stroke="#565656" stroke-width="0.63"/>
<path d="M608.30 408.60 L615.10 408.60" fill="none" stroke="#565656" stroke-width="0.65"/>
<path d="M609.50 410.05 L613.90 410.05" fill="none" stroke="#565656" stroke-width="0.65"/>
<path d="M610.70 411.50 L612.70 411.50" fill="none" stroke="#565656" stroke-width="0.65"/>
<rect x="403.60" y="199.70" width="178.40" height="96.00" fill="none" stroke="#909090" stroke-width="0.95" stroke-dasharray="5.5 1.6"/>
<text transform="translate(536.00 205.00) scale(0.1)" font-size="46.0" text-anchor="middle" fill="#000" stroke="#000" stroke-width="0.50" >2.85V Digital Supply Regulator</text>
<path d="M417.00 233.00 L414.40 236.50 L419.60 236.50 Z" fill="#000"/>
<text transform="translate(417.00 232.30) scale(0.1)" font-size="32.1" text-anchor="middle" fill="#000" stroke="#000" stroke-width="0.50" >VCC5</text>
<path d="M417.00 236.50 L417.00 250.30 L476.50 250.30" fill="none" stroke="#565656" stroke-width="0.63"/>
<circle cx="425.80" cy="250.30" r="1.15" fill="#000"/>
<circle cx="451.00" cy="250.30" r="1.15" fill="#000"/>
<path d="M425.80 250.30 L425.80 261.50" fill="none" stroke="#565656" stroke-width="0.63"/>
<path d="M425.80 263.50 L425.80 277.60" fill="none" stroke="#565656" stroke-width="0.63"/>
<path d="M422.60 261.50 L429.00 261.50" fill="none" stroke="#565656" stroke-width="0.63"/>
<path d="M422.60 263.50 L429.00 263.50" fill="none" stroke="#565656" stroke-width="0.63"/>
<path d="M422.40 277.60 L429.20 277.60" fill="none" stroke="#565656" stroke-width="0.65"/>
<path d="M423.60 279.05 L428.00 279.05" fill="none" stroke="#565656" stroke-width="0.65"/>
<path d="M424.80 280.50 L426.80 280.50" fill="none" stroke="#565656" stroke-width="0.65"/>
<text transform="translate(430.30 262.30) scale(0.1)" font-size="32.1" text-anchor="start" fill="#000" stroke="#000" stroke-width="0.50" >C6537</text>
<text transform="translate(430.30 265.35) scale(0.1)" font-size="32.1" text-anchor="start" fill="#000" stroke="#000" stroke-width="0.50" >4.7µF</text>
<path d="M451.00 250.30 L451.00 261.50" fill="none" stroke="#565656" stroke-width="0.63"/>
<path d="M451.00 263.50 L451.00 277.60" fill="none" stroke="#565656" stroke-width="0.63"/>
<path d="M447.80 261.50 L454.20 261.50" fill="none" stroke="#565656" stroke-width="0.63"/>
<path d="M447.80 263.50 L454.20 263.50" fill="none" stroke="#565656" stroke-width="0.63"/>
<path d="M447.60 277.60 L454.40 277.60" fill="none" stroke="#565656" stroke-width="0.65"/>
<path d="M448.80 279.05 L453.20 279.05" fill="none" stroke="#565656" stroke-width="0.65"/>
<path d="M450.00 280.50 L452.00 280.50" fill="none" stroke="#565656" stroke-width="0.65"/>
<text transform="translate(455.50 262.30) scale(0.1)" font-size="32.1" text-anchor="start" fill="#000" stroke="#000" stroke-width="0.50" >C6512</text>
<text transform="translate(455.50 265.35) scale(0.1)" font-size="32.1" text-anchor="start" fill="#000" stroke="#000" stroke-width="0.50" >0.1µF</text>
<path d="M451.00 219.70 L451.00 212.30" fill="none" stroke="#565656" stroke-width="0.63"/>
<path d="M527.50 212.30 L527.50 250.30" fill="none" stroke="#565656" stroke-width="0.63"/>
<path d="M451.00 219.70 L452.80 220.56 L449.20 222.27 L452.80 223.99 L449.20 225.71 L452.80 227.43 L449.20 229.14 L451.00 230.00" fill="none" stroke="#565656" stroke-width="0.63"/>
<path d="M451.00 230.00 L451.00 240.60" fill="none" stroke="#565656" stroke-width="0.63"/>
<path d="M447.60 240.60 L454.40 240.60" fill="none" stroke="#565656" stroke-width="0.65"/>
<path d="M448.80 242.05 L453.20 242.05" fill="none" stroke="#565656" stroke-width="0.65"/>
<path d="M450.00 243.50 L452.00 243.50" fill="none" stroke="#565656" stroke-width="0.65"/>
<text transform="translate(455.00 223.80) scale(0.1)" font-size="32.1" text-anchor="start" fill="#000" stroke="#000" stroke-width="0.50" >R6511</text>
<text transform="translate(455.00 226.85) scale(0.1)" font-size="32.1" text-anchor="start" fill="#000" stroke="#000" stroke-width="0.50" >39K</text>
<path d="M451.00 212.30 L492.50 212.30" fill="none" stroke="#565656" stroke-width="0.63"/>
<path d="M494.50 212.30 L527.50 212.30" fill="none" stroke="#565656" stroke-width="0.63"/>
<path d="M492.50 209.30 L492.50 215.30" fill="none" stroke="#565656" stroke-width="0.63"/>
<path d="M494.50 209.30 L494.50 215.30" fill="none" stroke="#565656" stroke-width="0.63"/>
<text transform="translate(493.40 208.20) scale(0.1)" font-size="32.1" text-anchor="middle" fill="#000" stroke="#000" stroke-width="0.50" >C6505</text>
<text transform="translate(493.40 218.30) scale(0.1)" font-size="32.1" text-anchor="middle" fill="#000" stroke="#000" stroke-width="0.50" >.01µF</text>
<circle cx="468.50" cy="212.30" r="1.15" fill="#000"/>
<circle cx="468.50" cy="228.50" r="1.15" fill="#000"/>
<circle cx="527.50" cy="228.50" r="1.15" fill="#000"/>
<path d="M468.50 228.50 L488.80 228.50" fill="none" stroke="#565656" stroke-width="0.63"/>
<path d="M488.80 228.50 L489.58 226.70 L491.15 230.30 L492.72 226.70 L494.28 230.30 L495.85 226.70 L497.42 230.30 L498.20 228.50" fill="none" stroke="#565656" stroke-width="0.63"/>
<path d="M498.20 228.50 L527.50 228.50" fill="none" stroke="#565656" stroke-width="0.63"/>
<text transform="translate(493.50 225.00) scale(0.1)" font-size="32.1" text-anchor="middle" fill="#000" stroke="#000" stroke-width="0.50" >R6510</text>
<text transform="translate(493.50 234.40) scale(0.1)" font-size="32.1" text-anchor="middle" fill="#000" stroke="#000" stroke-width="0.50" >43K</text>
<path d="M468.50 212.30 L468.50 252.00 L473.00 254.60 L476.50 254.60" fill="none" stroke="#565656" stroke-width="0.63"/>
<path d="M476.50 258.80 L473.00 258.80 L468.50 261.50 L468.50 310.00 L497.80 310.00 L497.80 428.40" fill="none" stroke="#565656" stroke-width="0.63"/>
<rect x="476.50" y="246.20" width="34.60" height="25.10" fill="#fff" stroke="#000" stroke-width="1.40"/>
<text transform="translate(494.30 241.20) scale(0.1)" font-size="32.1" text-anchor="middle" fill="#000" stroke="#000" stroke-width="0.50" >U6501</text>
<text transform="translate(494.30 244.40) scale(0.1)" font-size="32.1" text-anchor="middle" fill="#000" stroke="#000" stroke-width="0.50" >LP2951CD</text>
<text transform="translate(477.90 251.25) scale(0.1)" font-size="32.1" text-anchor="start" fill="#000" stroke="#000" stroke-width="0.50" >INPUT</text>
<text transform="translate(509.70 251.25) scale(0.1)" font-size="32.1" text-anchor="end" fill="#000" stroke="#000" stroke-width="0.50" >OUTPUT</text>
<text transform="translate(477.90 255.50) scale(0.1)" font-size="32.1" text-anchor="start" fill="#000" stroke="#000" stroke-width="0.50" >FEEDBACK</text>
<text transform="translate(509.70 255.50) scale(0.1)" font-size="32.1" text-anchor="end" fill="#000" stroke="#000" stroke-width="0.50" >ERROR</text>
<text transform="translate(477.90 259.75) scale(0.1)" font-size="32.1" text-anchor="start" fill="#000" stroke="#000" stroke-width="0.50" >SHUTDOWN</text>
<text transform="translate(509.70 259.75) scale(0.1)" font-size="32.1" text-anchor="end" fill="#000" stroke="#000" stroke-width="0.50" >SENSE</text>
<text transform="translate(509.70 264.00) scale(0.1)" font-size="32.1" text-anchor="end" fill="#000" stroke="#000" stroke-width="0.50" >VTAP</text>
<text transform="translate(494.60 270.30) rotate(-90) scale(0.1)" font-size="24.6" text-anchor="start" fill="#000" stroke="#000" stroke-width="0.50" >GND</text>
<text transform="translate(475.30 249.40) scale(0.1)" font-size="24.6" text-anchor="end" fill="#000" stroke="#000" stroke-width="0.50" >8</text>
<text transform="translate(475.30 253.60) scale(0.1)" font-size="24.6" text-anchor="end" fill="#000" stroke="#000" stroke-width="0.50" >7</text>
<text transform="translate(475.30 257.90) scale(0.1)" font-size="24.6" text-anchor="end" fill="#000" stroke="#000" stroke-width="0.50" >3</text>
<text transform="translate(512.10 249.40) scale(0.1)" font-size="24.6" text-anchor="start" fill="#000" stroke="#000" stroke-width="0.50" >1</text>
<text transform="translate(512.10 253.60) scale(0.1)" font-size="24.6" text-anchor="start" fill="#000" stroke="#000" stroke-width="0.50" >5</text>
<text transform="translate(512.10 257.90) scale(0.1)" font-size="24.6" text-anchor="start" fill="#000" stroke="#000" stroke-width="0.50" >2</text>
<text transform="translate(512.10 262.10) scale(0.1)" font-size="24.6" text-anchor="start" fill="#000" stroke="#000" stroke-width="0.50" >6</text>
<text transform="translate(492.40 274.90) scale(0.1)" font-size="24.6" text-anchor="end" fill="#000" stroke="#000" stroke-width="0.50" >4</text>
<path d="M511.10 258.70 L514.30 258.70 L514.30 263.00 L511.10 263.00" fill="none" stroke="#565656" stroke-width="0.50"/>
<path d="M511.10 250.30 L565.40 250.30 L565.40 241.40" fill="none" stroke="#565656" stroke-width="0.63"/>
<path d="M565.40 238.20 L562.80 241.70 L568.00 241.70 Z" fill="#000"/>
<text transform="translate(565.40 237.30) scale(0.1)" font-size="32.1" text-anchor="middle" fill="#000" stroke="#000" stroke-width="0.50" >VCC2.85</text>
<circle cx="527.50" cy="250.30" r="1.15" fill="#000"/>
<circle cx="548.40" cy="250.30" r="1.15" fill="#000"/>
<path d="M548.40 250.30 L548.40 261.50" fill="none" stroke="#565656" stroke-width="0.63"/>
<path d="M548.40 263.50 L548.40 283.00" fill="none" stroke="#565656" stroke-width="0.63"/>
<path d="M545.20 261.50 L551.60 261.50" fill="none" stroke="#565656" stroke-width="0.63"/>
<path d="M545.20 264.30 Q548.40 262.90 551.60 264.30" fill="none" stroke="#565656" stroke-width="0.63"/>
<path d="M545.00 283.00 L551.80 283.00" fill="none" stroke="#565656" stroke-width="0.65"/>
<path d="M546.20 284.45 L550.60 284.45" fill="none" stroke="#565656" stroke-width="0.65"/>
<path d="M547.40 285.90 L549.40 285.90" fill="none" stroke="#565656" stroke-width="0.65"/>
<text transform="translate(553.00 262.50) scale(0.1)" font-size="32.1" text-anchor="start" fill="#000" stroke="#000" stroke-width="0.50" >C6513</text>
<text transform="translate(553.00 265.55) scale(0.1)" font-size="32.1" text-anchor="start" fill="#000" stroke="#000" stroke-width="0.50" >150µF</text>
<text transform="translate(545.00 260.40) scale(0.1)" font-size="27.8" text-anchor="middle" fill="#000" stroke="#000" stroke-width="0.50" >+</text>
<path d="M511.10 254.60 L527.50 254.60 L527.50 301.30" fill="none" stroke="#565656" stroke-width="0.63"/>
<circle cx="527.50" cy="301.30" r="1.15" fill="#000"/>
<path d="M493.20 271.30 L493.20 290.20" fill="none" stroke="#565656" stroke-width="0.63"/>
<path d="M489.80 290.20 L496.60 290.20" fill="none" stroke="#565656" stroke-width="0.65"/>
<path d="M491.00 291.65 L495.40 291.65" fill="none" stroke="#565656" stroke-width="0.65"/>
<path d="M492.20 293.10 L494.20 293.10" fill="none" stroke="#565656" stroke-width="0.65"/>
<rect x="590.60" y="186.80" width="106.00" height="75.60" fill="none" stroke="#909090" stroke-width="0.95" stroke-dasharray="5.5 1.6"/>
<text transform="translate(643.50 193.50) scale(0.1)" font-size="46.0" text-anchor="middle" fill="#000" stroke="#000" stroke-width="0.50" >UNSW_5V Supply</text>
<path d="M598.40 199.30 L595.80 202.80 L601.00 202.80 Z" fill="#000"/>
<text transform="translate(598.40 198.50) scale(0.1)" font-size="32.1" text-anchor="middle" fill="#000" stroke="#000" stroke-width="0.50" >A+</text>
<path d="M598.40 202.80 L598.40 212.00 L606.50 212.00" fill="none" stroke="#565656" stroke-width="0.63"/>
<path d="M606.50 212.00 L607.29 210.20 L608.88 213.80 L610.46 210.20 L612.04 213.80 L613.62 210.20 L615.21 213.80 L616.00 212.00" fill="none" stroke="#565656" stroke-width="0.63"/>
<path d="M616.00 212.00 L674.70 212.00 L674.70 202.60" fill="none" stroke="#565656" stroke-width="0.63"/>
<path d="M674.70 199.30 L672.10 202.80 L677.30 202.80 Z" fill="#000"/>
<text transform="translate(674.70 198.50) scale(0.1)" font-size="32.1" text-anchor="middle" fill="#000" stroke="#000" stroke-width="0.50" >J-VSW_5V</text>
<text transform="translate(611.00 209.00) scale(0.1)" font-size="32.1" text-anchor="middle" fill="#000" stroke="#000" stroke-width="0.50" >R6567</text>
<text transform="translate(611.00 217.40) scale(0.1)" font-size="32.1" text-anchor="middle" fill="#000" stroke="#000" stroke-width="0.50" >10K</text>
<circle cx="644.90" cy="212.00" r="1.15" fill="#000"/>
<circle cx="661.90" cy="212.00" r="1.15" fill="#000"/>
<circle cx="653.40" cy="237.50" r="1.15" fill="#000"/>
<circle cx="644.90" cy="233.70" r="1.15" fill="#000"/>
<path d="M644.90 212.00 L644.90 237.50 L661.90 237.50" fill="none" stroke="#565656" stroke-width="0.63"/>
<rect x="639.8" y="220.4" width="10" height="10" fill="#fff" stroke="#565656" stroke-width="0.63"/>
<path d="M644.90 220.40 L644.90 230.40" fill="none" stroke="#565656" stroke-width="0.63"/>
<path d="M644.9 223 L642.4 227.8 L647.4 227.8 Z" fill="#000"/>
<path d="M642.30 223.00 L647.50 223.00 L648.10 222.30" fill="none" stroke="#000" stroke-width="0.70"/>
<text transform="translate(638.60 223.80) scale(0.1)" font-size="32.1" text-anchor="end" fill="#000" stroke="#000" stroke-width="0.50" >VR6502</text>
<text transform="translate(638.60 227.20) scale(0.1)" font-size="32.1" text-anchor="end" fill="#000" stroke="#000" stroke-width="0.50" >5.1V</text>
<path d="M649.80 224.90 L653.40 224.90 L653.40 233.70 L644.90 233.70" fill="none" stroke="#565656" stroke-width="0.63"/>
<path d="M653.40 237.50 L653.40 244.50" fill="none" stroke="#565656" stroke-width="0.63"/>
<path d="M650.00 244.50 L656.80 244.50" fill="none" stroke="#565656" stroke-width="0.65"/>
<path d="M651.20 245.95 L655.60 245.95" fill="none" stroke="#565656" stroke-width="0.65"/>
<path d="M652.40 247.40 L654.40 247.40" fill="none" stroke="#565656" stroke-width="0.65"/>
<path d="M661.90 212.00 L661.90 223.50" fill="none" stroke="#565656" stroke-width="0.63"/>
<path d="M661.90 225.50 L661.90 237.50" fill="none" stroke="#565656" stroke-width="0.63"/>
<path d="M658.70 223.50 L665.10 223.50" fill="none" stroke="#565656" stroke-width="0.63"/>
<path d="M658.70 225.50 L665.10 225.50" fill="none" stroke="#565656" stroke-width="0.63"/>
<text transform="translate(666.00 224.00) scale(0.1)" font-size="32.1" text-anchor="start" fill="#000" stroke="#000" stroke-width="0.50" >C6509</text>
<text transform="translate(666.00 227.05) scale(0.1)" font-size="32.1" text-anchor="start" fill="#000" stroke="#000" stroke-width="0.50" >0.1µF</text>
<path d="M645.70 273.60 L643.10 277.10 L648.30 277.10 Z" fill="#000"/>
<text transform="translate(645.70 272.80) scale(0.1)" font-size="32.1" text-anchor="middle" fill="#000" stroke="#000" stroke-width="0.50" >VCC2.85</text>
<path d="M645.70 277.10 L645.70 284.50 L637.60 284.50" fill="none" stroke="#565656" stroke-width="0.63"/>
<path d="M628.00 284.50 L628.80 282.70 L630.40 286.30 L632.00 282.70 L633.60 286.30 L635.20 282.70 L636.80 286.30 L637.60 284.50" fill="none" stroke="#565656" stroke-width="0.63"/>
<path d="M628.00 284.50 L612.40 284.50 L612.40 301.30" fill="none" stroke="#565656" stroke-width="0.63"/>
<circle cx="612.40" cy="301.30" r="1.15" fill="#000"/>
<text transform="translate(633.00 281.00) scale(0.1)" font-size="32.1" text-anchor="middle" fill="#000" stroke="#000" stroke-width="0.50" >R6518</text>
<text transform="translate(633.00 290.40) scale(0.1)" font-size="32.1" text-anchor="middle" fill="#000" stroke="#000" stroke-width="0.50" >10K</text>
<path d="M726.90 377.40 L724.30 380.90 L729.50 380.90 Z" fill="#000"/>
<text transform="translate(726.90 376.60) scale(0.1)" font-size="32.1" text-anchor="middle" fill="#000" stroke="#000" stroke-width="0.50" >VCC2.85</text>
<path d="M726.90 380.90 L726.90 394.70" fill="none" stroke="#565656" stroke-width="0.63"/>
<circle cx="726.90" cy="386.00" r="1.15" fill="#000"/>
<circle cx="726.90" cy="415.60" r="1.15" fill="#000"/>
<path d="M726.90 386.00 L700.80 386.00 L700.80 415.60 L726.90 415.60" fill="none" stroke="#565656" stroke-width="0.63"/>
<path d="M700.80 386.00 L700.80 401.50" fill="none" stroke="#565656" stroke-width="0.63"/>
<path d="M700.80 403.50 L700.80 415.60" fill="none" stroke="#565656" stroke-width="0.63"/>
<path d="M697.60 401.50 L704.00 401.50" fill="none" stroke="#565656" stroke-width="0.63"/>
<path d="M697.60 403.50 L704.00 403.50" fill="none" stroke="#565656" stroke-width="0.63"/>
<rect x="700" y="400" width="2" height="4.4" fill="#fff"/>
<path d="M698.20 401.40 L703.40 401.40" fill="none" stroke="#565656" stroke-width="0.63"/>
<path d="M698.20 403.00 L703.40 403.00" fill="none" stroke="#565656" stroke-width="0.63"/>
<text transform="translate(705.20 402.00) scale(0.1)" font-size="32.1" text-anchor="start" fill="#000" stroke="#000" stroke-width="0.50" >C6508</text>
<text transform="translate(705.20 405.05) scale(0.1)" font-size="32.1" text-anchor="start" fill="#000" stroke="#000" stroke-width="0.50" >0.1µF</text>
<rect x="718.2" y="394.7" width="17.3" height="12.5" fill="#fff" stroke="#666" stroke-width="0.6"/>
<text transform="translate(726.90 398.60) scale(0.1)" font-size="32.1" text-anchor="middle" fill="#000" stroke="#000" stroke-width="0.50" >VCC</text>
<text transform="translate(726.90 406.00) scale(0.1)" font-size="32.1" text-anchor="middle" fill="#000" stroke="#000" stroke-width="0.50" >GND</text>
<path d="M726.90 407.20 L726.90 426.00" fill="none" stroke="#565656" stroke-width="0.63"/>
<path d="M723.50 426.00 L730.30 426.00" fill="none" stroke="#565656" stroke-width="0.65"/>
<path d="M724.70 427.45 L729.10 427.45" fill="none" stroke="#565656" stroke-width="0.65"/>
<path d="M725.90 428.90 L727.90 428.90" fill="none" stroke="#565656" stroke-width="0.65"/>
<text transform="translate(732.40 389.70) scale(0.1)" font-size="32.1" text-anchor="start" fill="#000" stroke="#000" stroke-width="0.50" >U6508-2</text>
<text transform="translate(732.40 392.75) scale(0.1)" font-size="32.1" text-anchor="start" fill="#000" stroke="#000" stroke-width="0.50" >PWR_GND</text>
<text transform="translate(725.00 393.40) scale(0.1)" font-size="24.6" text-anchor="end" fill="#000" stroke="#000" stroke-width="0.50" >5</text>
<text transform="translate(725.00 410.60) scale(0.1)" font-size="24.6" text-anchor="end" fill="#000" stroke="#000" stroke-width="0.50" >3</text>
</svg>
</body></html>
